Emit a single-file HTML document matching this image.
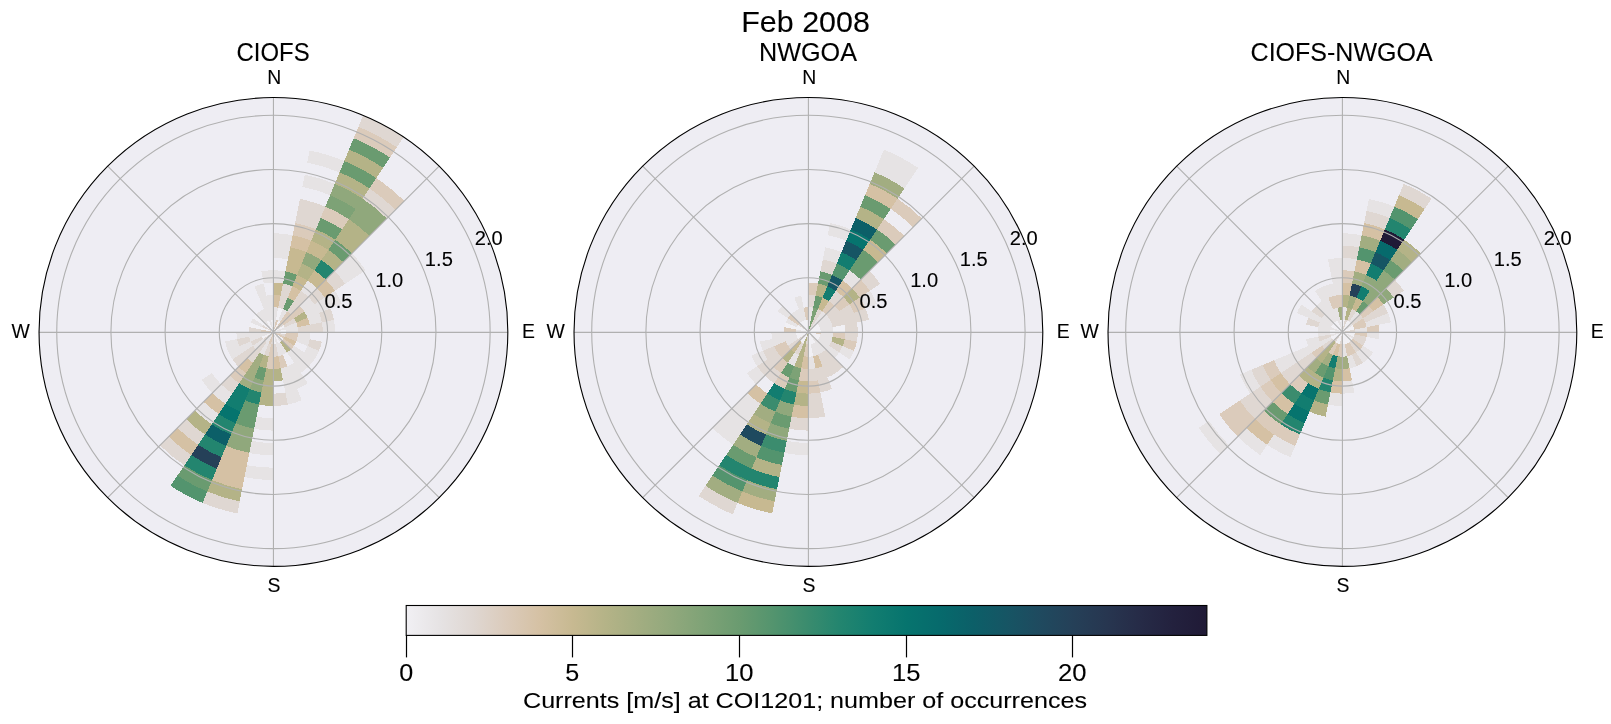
<!DOCTYPE html>
<html><head><meta charset="utf-8"><style>
html,body{margin:0;padding:0;background:#fff;}
svg{display:block;}
text{font-family:"Liberation Sans", sans-serif;fill:#000;stroke:#000;stroke-width:0.1px;}
</style></head><body>
<svg width="1611" height="724" viewBox="0 0 1611 724">
<rect width="1611" height="724" fill="#fff"/>
<circle cx="273.44" cy="331.95" r="234.4" fill="#eeedf3"/>
<g shape-rendering="crispEdges"><path d="M273.44,331.95L273.44,319.61A12.34,12.34 0 0 1 275.85,319.85Z" fill="#e6e3e4"/><path d="M273.44,307.28A24.67,24.67 0 0 1 278.25,307.75L275.85,319.85A12.34,12.34 0 0 0 273.44,319.61Z" fill="#e6e3e4"/><path d="M273.44,294.94A37.01,37.01 0 0 1 280.66,295.65L278.25,307.75A24.67,24.67 0 0 0 273.44,307.28Z" fill="#d5c1a4"/><path d="M273.44,282.60A49.35,49.35 0 0 1 283.07,283.55L280.66,295.65A37.01,37.01 0 0 0 273.44,294.94Z" fill="#c7b991"/><path d="M273.44,270.27A61.68,61.68 0 0 1 285.47,271.45L283.07,283.55A49.35,49.35 0 0 0 273.44,282.60Z" fill="#e6e3e4"/><path d="M273.44,245.59A86.36,86.36 0 0 1 290.29,247.25L287.88,259.35A74.02,74.02 0 0 0 273.44,257.93Z" fill="#e6e3e4"/><path d="M273.44,233.26A98.69,98.69 0 0 1 292.69,235.15L290.29,247.25A86.36,86.36 0 0 0 273.44,245.59Z" fill="#e6e3e4"/><path d="M273.44,331.95L275.85,319.85A12.34,12.34 0 0 1 278.16,320.55Z" fill="#dbcbbb"/><path d="M278.25,307.75A24.67,24.67 0 0 1 282.88,309.15L278.16,320.55A12.34,12.34 0 0 0 275.85,319.85Z" fill="#f1f0f4"/><path d="M280.66,295.65A37.01,37.01 0 0 1 287.60,297.76L282.88,309.15A24.67,24.67 0 0 0 278.25,307.75Z" fill="#dfd7d2"/><path d="M283.07,283.55A49.35,49.35 0 0 1 292.32,286.36L287.60,297.76A37.01,37.01 0 0 0 280.66,295.65Z" fill="#dfd7d2"/><path d="M285.47,271.45A61.68,61.68 0 0 1 297.05,274.96L292.32,286.36A49.35,49.35 0 0 0 283.07,283.55Z" fill="#6a9b70"/><path d="M287.88,259.35A74.02,74.02 0 0 1 301.77,263.56L297.05,274.96A61.68,61.68 0 0 0 285.47,271.45Z" fill="#c7b991"/><path d="M290.29,247.25A86.36,86.36 0 0 1 306.49,252.17L301.77,263.56A74.02,74.02 0 0 0 287.88,259.35Z" fill="#c7b991"/><path d="M292.69,235.15A98.69,98.69 0 0 1 311.21,240.77L306.49,252.17A86.36,86.36 0 0 0 290.29,247.25Z" fill="#d5c1a4"/><path d="M295.10,223.05A111.03,111.03 0 0 1 315.93,229.37L311.21,240.77A98.69,98.69 0 0 0 292.69,235.15Z" fill="#dbcbbb"/><path d="M297.51,210.95A123.37,123.37 0 0 1 320.65,217.97L315.93,229.37A111.03,111.03 0 0 0 295.10,223.05Z" fill="#dfd7d2"/><path d="M299.91,198.85A135.71,135.71 0 0 1 325.37,206.57L320.65,217.97A123.37,123.37 0 0 0 297.51,210.95Z" fill="#dfd7d2"/><path d="M304.73,174.65A160.38,160.38 0 0 1 334.81,183.78L330.09,195.18A148.04,148.04 0 0 0 302.32,186.75Z" fill="#e6e3e4"/><path d="M309.54,150.45A185.05,185.05 0 0 1 344.26,160.98L339.54,172.38A172.72,172.72 0 0 0 307.14,162.55Z" fill="#e6e3e4"/><path d="M273.44,331.95L278.16,320.55A12.34,12.34 0 0 1 280.29,321.69Z" fill="#f1f0f4"/><path d="M282.88,309.15A24.67,24.67 0 0 1 287.15,311.43L280.29,321.69A12.34,12.34 0 0 0 278.16,320.55Z" fill="#e6e3e4"/><path d="M287.60,297.76A37.01,37.01 0 0 1 294.00,301.18L287.15,311.43A24.67,24.67 0 0 0 282.88,309.15Z" fill="#6a9b70"/><path d="M292.32,286.36A49.35,49.35 0 0 1 300.86,290.92L294.00,301.18A37.01,37.01 0 0 0 287.60,297.76Z" fill="#d5c1a4"/><path d="M297.05,274.96A61.68,61.68 0 0 1 307.71,280.66L300.86,290.92A49.35,49.35 0 0 0 292.32,286.36Z" fill="#c7b991"/><path d="M301.77,263.56A74.02,74.02 0 0 1 314.56,270.40L307.71,280.66A61.68,61.68 0 0 0 297.05,274.96Z" fill="#b4b387"/><path d="M306.49,252.17A86.36,86.36 0 0 1 321.42,260.15L314.56,270.40A74.02,74.02 0 0 0 301.77,263.56Z" fill="#90a87c"/><path d="M311.21,240.77A98.69,98.69 0 0 1 328.27,249.89L321.42,260.15A86.36,86.36 0 0 0 306.49,252.17Z" fill="#c7b991"/><path d="M315.93,229.37A111.03,111.03 0 0 1 335.13,239.63L328.27,249.89A98.69,98.69 0 0 0 311.21,240.77Z" fill="#b4b387"/><path d="M320.65,217.97A123.37,123.37 0 0 1 341.98,229.37L335.13,239.63A111.03,111.03 0 0 0 315.93,229.37Z" fill="#6a9b70"/><path d="M325.37,206.57A135.71,135.71 0 0 1 348.83,219.12L341.98,229.37A123.37,123.37 0 0 0 320.65,217.97Z" fill="#dbcbbb"/><path d="M330.09,195.18A148.04,148.04 0 0 1 355.69,208.86L348.83,219.12A135.71,135.71 0 0 0 325.37,206.57Z" fill="#7da276"/><path d="M334.81,183.78A160.38,160.38 0 0 1 362.54,198.60L355.69,208.86A148.04,148.04 0 0 0 330.09,195.18Z" fill="#90a87c"/><path d="M339.54,172.38A172.72,172.72 0 0 1 369.40,188.34L362.54,198.60A160.38,160.38 0 0 0 334.81,183.78Z" fill="#b4b387"/><path d="M344.26,160.98A185.05,185.05 0 0 1 376.25,178.08L369.40,188.34A172.72,172.72 0 0 0 339.54,172.38Z" fill="#6a9b70"/><path d="M348.98,149.59A197.39,197.39 0 0 1 383.10,167.83L376.25,178.08A185.05,185.05 0 0 0 344.26,160.98Z" fill="#b4b387"/><path d="M353.70,138.19A209.73,209.73 0 0 1 389.96,157.57L383.10,167.83A197.39,197.39 0 0 0 348.98,149.59Z" fill="#6a9b70"/><path d="M358.42,126.79A222.06,222.06 0 0 1 396.81,147.31L389.96,157.57A209.73,209.73 0 0 0 353.70,138.19Z" fill="#dbcbbb"/><path d="M363.14,115.39A234.40,234.40 0 0 1 403.67,137.05L396.81,147.31A222.06,222.06 0 0 0 358.42,126.79Z" fill="#dfd7d2"/><path d="M273.44,331.95L280.29,321.69A12.34,12.34 0 0 1 282.16,323.23Z" fill="#dbcbbb"/><path d="M287.15,311.43A24.67,24.67 0 0 1 290.89,314.50L282.16,323.23A12.34,12.34 0 0 0 280.29,321.69Z" fill="#dbcbbb"/><path d="M294.00,301.18A37.01,37.01 0 0 1 299.61,305.78L290.89,314.50A24.67,24.67 0 0 0 287.15,311.43Z" fill="#dfd7d2"/><path d="M300.86,290.92A49.35,49.35 0 0 1 308.33,297.06L299.61,305.78A37.01,37.01 0 0 0 294.00,301.18Z" fill="#dfd7d2"/><path d="M307.71,280.66A61.68,61.68 0 0 1 317.06,288.33L308.33,297.06A49.35,49.35 0 0 0 300.86,290.92Z" fill="#e6e3e4"/><path d="M314.56,270.40A74.02,74.02 0 0 1 325.78,279.61L317.06,288.33A61.68,61.68 0 0 0 307.71,280.66Z" fill="#c7b991"/><path d="M321.42,260.15A86.36,86.36 0 0 1 334.50,270.89L325.78,279.61A74.02,74.02 0 0 0 314.56,270.40Z" fill="#23856f"/><path d="M328.27,249.89A98.69,98.69 0 0 1 343.23,262.16L334.50,270.89A86.36,86.36 0 0 0 321.42,260.15Z" fill="#b4b387"/><path d="M335.13,239.63A111.03,111.03 0 0 1 351.95,253.44L343.23,262.16A98.69,98.69 0 0 0 328.27,249.89Z" fill="#6a9b70"/><path d="M341.98,229.37A123.37,123.37 0 0 1 360.67,244.72L351.95,253.44A111.03,111.03 0 0 0 335.13,239.63Z" fill="#b4b387"/><path d="M348.83,219.12A135.71,135.71 0 0 1 369.40,235.99L360.67,244.72A123.37,123.37 0 0 0 341.98,229.37Z" fill="#b4b387"/><path d="M355.69,208.86A148.04,148.04 0 0 1 378.12,227.27L369.40,235.99A135.71,135.71 0 0 0 348.83,219.12Z" fill="#90a87c"/><path d="M362.54,198.60A160.38,160.38 0 0 1 386.85,218.54L378.12,227.27A148.04,148.04 0 0 0 355.69,208.86Z" fill="#90a87c"/><path d="M369.40,188.34A172.72,172.72 0 0 1 395.57,209.82L386.85,218.54A160.38,160.38 0 0 0 362.54,198.60Z" fill="#dfd7d2"/><path d="M376.25,178.08A185.05,185.05 0 0 1 404.29,201.10L395.57,209.82A172.72,172.72 0 0 0 369.40,188.34Z" fill="#dbcbbb"/><path d="M273.44,331.95L282.16,323.23A12.34,12.34 0 0 1 283.70,325.10Z" fill="#dfd7d2"/><path d="M290.89,314.50A24.67,24.67 0 0 1 293.96,318.24L283.70,325.10A12.34,12.34 0 0 0 282.16,323.23Z" fill="#dbcbbb"/><path d="M299.61,305.78A37.01,37.01 0 0 1 304.21,311.39L293.96,318.24A24.67,24.67 0 0 0 290.89,314.50Z" fill="#dbcbbb"/><path d="M308.33,297.06A49.35,49.35 0 0 1 314.47,304.53L304.21,311.39A37.01,37.01 0 0 0 299.61,305.78Z" fill="#e6e3e4"/><path d="M317.06,288.33A61.68,61.68 0 0 1 324.73,297.68L314.47,304.53A49.35,49.35 0 0 0 308.33,297.06Z" fill="#dfd7d2"/><path d="M325.78,279.61A74.02,74.02 0 0 1 334.99,290.83L324.73,297.68A61.68,61.68 0 0 0 317.06,288.33Z" fill="#d5c1a4"/><path d="M334.50,270.89A86.36,86.36 0 0 1 345.24,283.97L334.99,290.83A74.02,74.02 0 0 0 325.78,279.61Z" fill="#dfd7d2"/><path d="M343.23,262.16A98.69,98.69 0 0 1 355.50,277.12L345.24,283.97A86.36,86.36 0 0 0 334.50,270.89Z" fill="#e6e3e4"/><path d="M351.95,253.44A111.03,111.03 0 0 1 365.76,270.26L355.50,277.12A98.69,98.69 0 0 0 343.23,262.16Z" fill="#e6e3e4"/><path d="M273.44,331.95L283.70,325.10A12.34,12.34 0 0 1 284.84,327.23Z" fill="#f1f0f4"/><path d="M293.96,318.24A24.67,24.67 0 0 1 296.24,322.51L284.84,327.23A12.34,12.34 0 0 0 283.70,325.10Z" fill="#dfd7d2"/><path d="M304.21,311.39A37.01,37.01 0 0 1 307.63,317.79L296.24,322.51A24.67,24.67 0 0 0 293.96,318.24Z" fill="#b4b387"/><path d="M314.47,304.53A49.35,49.35 0 0 1 319.03,313.07L307.63,317.79A37.01,37.01 0 0 0 304.21,311.39Z" fill="#e6e3e4"/><path d="M324.73,297.68A61.68,61.68 0 0 1 330.43,308.34L319.03,313.07A49.35,49.35 0 0 0 314.47,304.53Z" fill="#e6e3e4"/><path d="M334.99,290.83A74.02,74.02 0 0 1 341.83,303.62L330.43,308.34A61.68,61.68 0 0 0 324.73,297.68Z" fill="#e6e3e4"/><path d="M273.44,331.95L284.84,327.23A12.34,12.34 0 0 1 285.54,329.54Z" fill="#e6e3e4"/><path d="M296.24,322.51A24.67,24.67 0 0 1 297.64,327.14L285.54,329.54A12.34,12.34 0 0 0 284.84,327.23Z" fill="#e6e3e4"/><path d="M307.63,317.79A37.01,37.01 0 0 1 309.74,324.73L297.64,327.14A24.67,24.67 0 0 0 296.24,322.51Z" fill="#d5c1a4"/><path d="M319.03,313.07A49.35,49.35 0 0 1 321.84,322.32L309.74,324.73A37.01,37.01 0 0 0 307.63,317.79Z" fill="#e6e3e4"/><path d="M330.43,308.34A61.68,61.68 0 0 1 333.94,319.92L321.84,322.32A49.35,49.35 0 0 0 319.03,313.07Z" fill="#dfd7d2"/><path d="M273.44,331.95L285.54,329.54A12.34,12.34 0 0 1 285.78,331.95Z" fill="#f1f0f4"/><path d="M297.64,327.14A24.67,24.67 0 0 1 298.11,331.95L285.78,331.95A12.34,12.34 0 0 0 285.54,329.54Z" fill="#e6e3e4"/><path d="M309.74,324.73A37.01,37.01 0 0 1 310.45,331.95L298.11,331.95A24.67,24.67 0 0 0 297.64,327.14Z" fill="#dfd7d2"/><path d="M321.84,322.32A49.35,49.35 0 0 1 322.79,331.95L310.45,331.95A37.01,37.01 0 0 0 309.74,324.73Z" fill="#dfd7d2"/><path d="M333.94,319.92A61.68,61.68 0 0 1 335.12,331.95L322.79,331.95A49.35,49.35 0 0 0 321.84,322.32Z" fill="#e6e3e4"/><path d="M273.44,331.95L285.78,331.95A12.34,12.34 0 0 1 285.54,334.36Z" fill="#f1f0f4"/><path d="M298.11,331.95A24.67,24.67 0 0 1 297.64,336.76L285.54,334.36A12.34,12.34 0 0 0 285.78,331.95Z" fill="#dbcbbb"/><path d="M310.45,331.95A37.01,37.01 0 0 1 309.74,339.17L297.64,336.76A24.67,24.67 0 0 0 298.11,331.95Z" fill="#e6e3e4"/><path d="M273.44,331.95L285.54,334.36A12.34,12.34 0 0 1 284.84,336.67Z" fill="#dfd7d2"/><path d="M297.64,336.76A24.67,24.67 0 0 1 296.24,341.39L284.84,336.67A12.34,12.34 0 0 0 285.54,334.36Z" fill="#dbcbbb"/><path d="M309.74,339.17A37.01,37.01 0 0 1 307.63,346.11L296.24,341.39A24.67,24.67 0 0 0 297.64,336.76Z" fill="#e6e3e4"/><path d="M321.84,341.58A49.35,49.35 0 0 1 319.03,350.83L307.63,346.11A37.01,37.01 0 0 0 309.74,339.17Z" fill="#dfd7d2"/><path d="M273.44,331.95L284.84,336.67A12.34,12.34 0 0 1 283.70,338.80Z" fill="#dbcbbb"/><path d="M296.24,341.39A24.67,24.67 0 0 1 293.96,345.66L283.70,338.80A12.34,12.34 0 0 0 284.84,336.67Z" fill="#d5c1a4"/><path d="M319.03,350.83A49.35,49.35 0 0 1 314.47,359.37L304.21,352.51A37.01,37.01 0 0 0 307.63,346.11Z" fill="#e6e3e4"/><path d="M273.44,331.95L283.70,338.80A12.34,12.34 0 0 1 282.16,340.67Z" fill="#f1f0f4"/><path d="M293.96,345.66A24.67,24.67 0 0 1 290.89,349.40L282.16,340.67A12.34,12.34 0 0 0 283.70,338.80Z" fill="#dbcbbb"/><path d="M304.21,352.51A37.01,37.01 0 0 1 299.61,358.12L290.89,349.40A24.67,24.67 0 0 0 293.96,345.66Z" fill="#e6e3e4"/><path d="M314.47,359.37A49.35,49.35 0 0 1 308.33,366.84L299.61,358.12A37.01,37.01 0 0 0 304.21,352.51Z" fill="#e6e3e4"/><path d="M273.44,331.95L282.16,340.67A12.34,12.34 0 0 1 280.29,342.21Z" fill="#e6e3e4"/><path d="M290.89,349.40A24.67,24.67 0 0 1 287.15,352.47L280.29,342.21A12.34,12.34 0 0 0 282.16,340.67Z" fill="#b4b387"/><path d="M299.61,358.12A37.01,37.01 0 0 1 294.00,362.72L287.15,352.47A24.67,24.67 0 0 0 290.89,349.40Z" fill="#e6e3e4"/><path d="M308.33,366.84A49.35,49.35 0 0 1 300.86,372.98L294.00,362.72A37.01,37.01 0 0 0 299.61,358.12Z" fill="#e6e3e4"/><path d="M273.44,331.95L280.29,342.21A12.34,12.34 0 0 1 278.16,343.35Z" fill="#f1f0f4"/><path d="M287.15,352.47A24.67,24.67 0 0 1 282.88,354.75L278.16,343.35A12.34,12.34 0 0 0 280.29,342.21Z" fill="#e6e3e4"/><path d="M300.86,372.98A49.35,49.35 0 0 1 292.32,377.54L287.60,366.14A37.01,37.01 0 0 0 294.00,362.72Z" fill="#e6e3e4"/><path d="M307.71,383.24A61.68,61.68 0 0 1 297.05,388.94L292.32,377.54A49.35,49.35 0 0 0 300.86,372.98Z" fill="#e6e3e4"/><path d="M273.44,331.95L278.16,343.35A12.34,12.34 0 0 1 275.85,344.05Z" fill="#e6e3e4"/><path d="M282.88,354.75A24.67,24.67 0 0 1 278.25,356.15L275.85,344.05A12.34,12.34 0 0 0 278.16,343.35Z" fill="#e6e3e4"/><path d="M287.60,366.14A37.01,37.01 0 0 1 280.66,368.25L278.25,356.15A24.67,24.67 0 0 0 282.88,354.75Z" fill="#dbcbbb"/><path d="M292.32,377.54A49.35,49.35 0 0 1 283.07,380.35L280.66,368.25A37.01,37.01 0 0 0 287.60,366.14Z" fill="#e6e3e4"/><path d="M297.05,388.94A61.68,61.68 0 0 1 285.47,392.45L283.07,380.35A49.35,49.35 0 0 0 292.32,377.54Z" fill="#e6e3e4"/><path d="M301.77,400.34A74.02,74.02 0 0 1 287.88,404.55L285.47,392.45A61.68,61.68 0 0 0 297.05,388.94Z" fill="#e6e3e4"/><path d="M273.44,331.95L275.85,344.05A12.34,12.34 0 0 1 273.44,344.29Z" fill="#f1f0f4"/><path d="M278.25,356.15A24.67,24.67 0 0 1 273.44,356.62L273.44,344.29A12.34,12.34 0 0 0 275.85,344.05Z" fill="#dfd7d2"/><path d="M280.66,368.25A37.01,37.01 0 0 1 273.44,368.96L273.44,356.62A24.67,24.67 0 0 0 278.25,356.15Z" fill="#d5c1a4"/><path d="M283.07,380.35A49.35,49.35 0 0 1 273.44,381.30L273.44,368.96A37.01,37.01 0 0 0 280.66,368.25Z" fill="#b4b387"/><path d="M287.88,404.55A74.02,74.02 0 0 1 273.44,405.97L273.44,393.63A61.68,61.68 0 0 0 285.47,392.45Z" fill="#dfd7d2"/><path d="M273.44,331.95L273.44,344.29A12.34,12.34 0 0 1 271.03,344.05Z" fill="#dfd7d2"/><path d="M273.44,356.62A24.67,24.67 0 0 1 268.63,356.15L271.03,344.05A12.34,12.34 0 0 0 273.44,344.29Z" fill="#dbcbbb"/><path d="M273.44,368.96A37.01,37.01 0 0 1 266.22,368.25L268.63,356.15A24.67,24.67 0 0 0 273.44,356.62Z" fill="#dbcbbb"/><path d="M273.44,381.30A49.35,49.35 0 0 1 263.81,380.35L266.22,368.25A37.01,37.01 0 0 0 273.44,368.96Z" fill="#b4b387"/><path d="M273.44,393.63A61.68,61.68 0 0 1 261.41,392.45L263.81,380.35A49.35,49.35 0 0 0 273.44,381.30Z" fill="#b4b387"/><path d="M273.44,405.97A74.02,74.02 0 0 1 259.00,404.55L261.41,392.45A61.68,61.68 0 0 0 273.44,393.63Z" fill="#b4b387"/><path d="M273.44,430.64A98.69,98.69 0 0 1 254.19,428.75L256.59,416.65A86.36,86.36 0 0 0 273.44,418.31Z" fill="#e6e3e4"/><path d="M273.44,455.32A123.37,123.37 0 0 1 249.37,452.95L251.78,440.85A111.03,111.03 0 0 0 273.44,442.98Z" fill="#e6e3e4"/><path d="M273.44,479.99A148.04,148.04 0 0 1 244.56,477.15L246.97,465.05A135.71,135.71 0 0 0 273.44,467.66Z" fill="#e6e3e4"/><path d="M273.44,331.95L271.03,344.05A12.34,12.34 0 0 1 268.72,343.35Z" fill="#dbcbbb"/><path d="M268.63,356.15A24.67,24.67 0 0 1 264.00,354.75L268.72,343.35A12.34,12.34 0 0 0 271.03,344.05Z" fill="#dfd7d2"/><path d="M266.22,368.25A37.01,37.01 0 0 1 259.28,366.14L264.00,354.75A24.67,24.67 0 0 0 268.63,356.15Z" fill="#b4b387"/><path d="M263.81,380.35A49.35,49.35 0 0 1 254.56,377.54L259.28,366.14A37.01,37.01 0 0 0 266.22,368.25Z" fill="#6a9b70"/><path d="M261.41,392.45A61.68,61.68 0 0 1 249.83,388.94L254.56,377.54A49.35,49.35 0 0 0 263.81,380.35Z" fill="#90a87c"/><path d="M259.00,404.55A74.02,74.02 0 0 1 245.11,400.34L249.83,388.94A61.68,61.68 0 0 0 261.41,392.45Z" fill="#23856f"/><path d="M256.59,416.65A86.36,86.36 0 0 1 240.39,411.73L245.11,400.34A74.02,74.02 0 0 0 259.00,404.55Z" fill="#6a9b70"/><path d="M254.19,428.75A98.69,98.69 0 0 1 235.67,423.13L240.39,411.73A86.36,86.36 0 0 0 256.59,416.65Z" fill="#6a9b70"/><path d="M251.78,440.85A111.03,111.03 0 0 1 230.95,434.53L235.67,423.13A98.69,98.69 0 0 0 254.19,428.75Z" fill="#90a87c"/><path d="M249.37,452.95A123.37,123.37 0 0 1 226.23,445.93L230.95,434.53A111.03,111.03 0 0 0 251.78,440.85Z" fill="#90a87c"/><path d="M246.97,465.05A135.71,135.71 0 0 1 221.51,457.33L226.23,445.93A123.37,123.37 0 0 0 249.37,452.95Z" fill="#d5c1a4"/><path d="M244.56,477.15A148.04,148.04 0 0 1 216.79,468.72L221.51,457.33A135.71,135.71 0 0 0 246.97,465.05Z" fill="#d5c1a4"/><path d="M242.15,489.25A160.38,160.38 0 0 1 212.07,480.12L216.79,468.72A148.04,148.04 0 0 0 244.56,477.15Z" fill="#d5c1a4"/><path d="M239.74,501.35A172.72,172.72 0 0 1 207.34,491.52L212.07,480.12A160.38,160.38 0 0 0 242.15,489.25Z" fill="#b4b387"/><path d="M237.34,513.45A185.05,185.05 0 0 1 202.62,502.92L207.34,491.52A172.72,172.72 0 0 0 239.74,501.35Z" fill="#dfd7d2"/><path d="M273.44,331.95L268.72,343.35A12.34,12.34 0 0 1 266.59,342.21Z" fill="#e6e3e4"/><path d="M264.00,354.75A24.67,24.67 0 0 1 259.73,352.47L266.59,342.21A12.34,12.34 0 0 0 268.72,343.35Z" fill="#e6e3e4"/><path d="M259.28,366.14A37.01,37.01 0 0 1 252.88,362.72L259.73,352.47A24.67,24.67 0 0 0 264.00,354.75Z" fill="#a2ad81"/><path d="M254.56,377.54A49.35,49.35 0 0 1 246.02,372.98L252.88,362.72A37.01,37.01 0 0 0 259.28,366.14Z" fill="#a2ad81"/><path d="M249.83,388.94A61.68,61.68 0 0 1 239.17,383.24L246.02,372.98A49.35,49.35 0 0 0 254.56,377.54Z" fill="#a2ad81"/><path d="M245.11,400.34A74.02,74.02 0 0 1 232.32,393.50L239.17,383.24A61.68,61.68 0 0 0 249.83,388.94Z" fill="#127d70"/><path d="M240.39,411.73A86.36,86.36 0 0 1 225.46,403.75L232.32,393.50A74.02,74.02 0 0 0 245.11,400.34Z" fill="#127d70"/><path d="M235.67,423.13A98.69,98.69 0 0 1 218.61,414.01L225.46,403.75A86.36,86.36 0 0 0 240.39,411.73Z" fill="#06746e"/><path d="M230.95,434.53A111.03,111.03 0 0 1 211.75,424.27L218.61,414.01A98.69,98.69 0 0 0 235.67,423.13Z" fill="#23856f"/><path d="M226.23,445.93A123.37,123.37 0 0 1 204.90,434.53L211.75,424.27A111.03,111.03 0 0 0 230.95,434.53Z" fill="#0c5f68"/><path d="M221.51,457.33A135.71,135.71 0 0 1 198.05,444.78L204.90,434.53A123.37,123.37 0 0 0 226.23,445.93Z" fill="#23856f"/><path d="M216.79,468.72A148.04,148.04 0 0 1 191.19,455.04L198.05,444.78A135.71,135.71 0 0 0 221.51,457.33Z" fill="#254058"/><path d="M212.07,480.12A160.38,160.38 0 0 1 184.34,465.30L191.19,455.04A148.04,148.04 0 0 0 216.79,468.72Z" fill="#23856f"/><path d="M207.34,491.52A172.72,172.72 0 0 1 177.48,475.56L184.34,465.30A160.38,160.38 0 0 0 212.07,480.12Z" fill="#6a9b70"/><path d="M202.62,502.92A185.05,185.05 0 0 1 170.63,485.82L177.48,475.56A172.72,172.72 0 0 0 207.34,491.52Z" fill="#53946e"/><path d="M273.44,331.95L266.59,342.21A12.34,12.34 0 0 1 264.72,340.67Z" fill="#e6e3e4"/><path d="M259.73,352.47A24.67,24.67 0 0 1 255.99,349.40L264.72,340.67A12.34,12.34 0 0 0 266.59,342.21Z" fill="#dfd7d2"/><path d="M252.88,362.72A37.01,37.01 0 0 1 247.27,358.12L255.99,349.40A24.67,24.67 0 0 0 259.73,352.47Z" fill="#dfd7d2"/><path d="M246.02,372.98A49.35,49.35 0 0 1 238.55,366.84L247.27,358.12A37.01,37.01 0 0 0 252.88,362.72Z" fill="#d5c1a4"/><path d="M239.17,383.24A61.68,61.68 0 0 1 229.82,375.57L238.55,366.84A49.35,49.35 0 0 0 246.02,372.98Z" fill="#dbcbbb"/><path d="M232.32,393.50A74.02,74.02 0 0 1 221.10,384.29L229.82,375.57A61.68,61.68 0 0 0 239.17,383.24Z" fill="#dfd7d2"/><path d="M225.46,403.75A86.36,86.36 0 0 1 212.38,393.01L221.10,384.29A74.02,74.02 0 0 0 232.32,393.50Z" fill="#e6e3e4"/><path d="M218.61,414.01A98.69,98.69 0 0 1 203.65,401.74L212.38,393.01A86.36,86.36 0 0 0 225.46,403.75Z" fill="#d5c1a4"/><path d="M211.75,424.27A111.03,111.03 0 0 1 194.93,410.46L203.65,401.74A98.69,98.69 0 0 0 218.61,414.01Z" fill="#e6e3e4"/><path d="M204.90,434.53A123.37,123.37 0 0 1 186.21,419.18L194.93,410.46A111.03,111.03 0 0 0 211.75,424.27Z" fill="#b4b387"/><path d="M198.05,444.78A135.71,135.71 0 0 1 177.48,427.91L186.21,419.18A123.37,123.37 0 0 0 204.90,434.53Z" fill="#dfd7d2"/><path d="M191.19,455.04A148.04,148.04 0 0 1 168.76,436.63L177.48,427.91A135.71,135.71 0 0 0 198.05,444.78Z" fill="#d5c1a4"/><path d="M184.34,465.30A160.38,160.38 0 0 1 160.03,445.36L168.76,436.63A148.04,148.04 0 0 0 191.19,455.04Z" fill="#dfd7d2"/><path d="M273.44,331.95L264.72,340.67A12.34,12.34 0 0 1 263.18,338.80Z" fill="#dfd7d2"/><path d="M255.99,349.40A24.67,24.67 0 0 1 252.92,345.66L263.18,338.80A12.34,12.34 0 0 0 264.72,340.67Z" fill="#e6e3e4"/><path d="M247.27,358.12A37.01,37.01 0 0 1 242.67,352.51L252.92,345.66A24.67,24.67 0 0 0 255.99,349.40Z" fill="#dfd7d2"/><path d="M238.55,366.84A49.35,49.35 0 0 1 232.41,359.37L242.67,352.51A37.01,37.01 0 0 0 247.27,358.12Z" fill="#dfd7d2"/><path d="M212.38,393.01A86.36,86.36 0 0 1 201.64,379.93L211.89,373.07A74.02,74.02 0 0 0 221.10,384.29Z" fill="#e6e3e4"/><path d="M273.44,331.95L263.18,338.80A12.34,12.34 0 0 1 262.04,336.67Z" fill="#f1f0f4"/><path d="M252.92,345.66A24.67,24.67 0 0 1 250.64,341.39L262.04,336.67A12.34,12.34 0 0 0 263.18,338.80Z" fill="#dfd7d2"/><path d="M242.67,352.51A37.01,37.01 0 0 1 239.25,346.11L250.64,341.39A24.67,24.67 0 0 0 252.92,345.66Z" fill="#e6e3e4"/><path d="M232.41,359.37A49.35,49.35 0 0 1 227.85,350.83L239.25,346.11A37.01,37.01 0 0 0 242.67,352.51Z" fill="#e6e3e4"/><path d="M273.44,331.95L262.04,336.67A12.34,12.34 0 0 1 261.34,334.36Z" fill="#e6e3e4"/><path d="M250.64,341.39A24.67,24.67 0 0 1 249.24,336.76L261.34,334.36A12.34,12.34 0 0 0 262.04,336.67Z" fill="#e6e3e4"/><path d="M239.25,346.11A37.01,37.01 0 0 1 237.14,339.17L249.24,336.76A24.67,24.67 0 0 0 250.64,341.39Z" fill="#dfd7d2"/><path d="M227.85,350.83A49.35,49.35 0 0 1 225.04,341.58L237.14,339.17A37.01,37.01 0 0 0 239.25,346.11Z" fill="#e6e3e4"/><path d="M273.44,331.95L261.34,334.36A12.34,12.34 0 0 1 261.10,331.95Z" fill="#e6e3e4"/><path d="M249.24,336.76A24.67,24.67 0 0 1 248.77,331.95L261.10,331.95A12.34,12.34 0 0 0 261.34,334.36Z" fill="#e6e3e4"/><path d="M237.14,339.17A37.01,37.01 0 0 1 236.43,331.95L248.77,331.95A24.67,24.67 0 0 0 249.24,336.76Z" fill="#e6e3e4"/><path d="M273.44,331.95L261.10,331.95A12.34,12.34 0 0 1 261.34,329.54Z" fill="#dbcbbb"/><path d="M248.77,331.95A24.67,24.67 0 0 1 249.24,327.14L261.34,329.54A12.34,12.34 0 0 0 261.10,331.95Z" fill="#dfd7d2"/><path d="M273.44,331.95L261.34,329.54A12.34,12.34 0 0 1 262.04,327.23Z" fill="#f1f0f4"/><path d="M249.24,327.14A24.67,24.67 0 0 1 250.64,322.51L262.04,327.23A12.34,12.34 0 0 0 261.34,329.54Z" fill="#f1f0f4"/><path d="M273.44,331.95L262.04,327.23A12.34,12.34 0 0 1 263.18,325.10Z" fill="#dfd7d2"/><path d="M250.64,322.51A24.67,24.67 0 0 1 252.92,318.24L263.18,325.10A12.34,12.34 0 0 0 262.04,327.23Z" fill="#e6e3e4"/><path d="M273.44,331.95L263.18,325.10A12.34,12.34 0 0 1 264.72,323.23Z" fill="#f1f0f4"/><path d="M252.92,318.24A24.67,24.67 0 0 1 255.99,314.50L264.72,323.23A12.34,12.34 0 0 0 263.18,325.10Z" fill="#f1f0f4"/><path d="M273.44,331.95L264.72,323.23A12.34,12.34 0 0 1 266.59,321.69Z" fill="#e6e3e4"/><path d="M255.99,314.50A24.67,24.67 0 0 1 259.73,311.43L266.59,321.69A12.34,12.34 0 0 0 264.72,323.23Z" fill="#e6e3e4"/><path d="M273.44,331.95L266.59,321.69A12.34,12.34 0 0 1 268.72,320.55Z" fill="#f1f0f4"/><path d="M259.73,311.43A24.67,24.67 0 0 1 264.00,309.15L268.72,320.55A12.34,12.34 0 0 0 266.59,321.69Z" fill="#e6e3e4"/><path d="M273.44,331.95L268.72,320.55A12.34,12.34 0 0 1 271.03,319.85Z" fill="#e6e3e4"/><path d="M264.00,309.15A24.67,24.67 0 0 1 268.63,307.75L271.03,319.85A12.34,12.34 0 0 0 268.72,320.55Z" fill="#e6e3e4"/><path d="M259.28,297.76A37.01,37.01 0 0 1 266.22,295.65L268.63,307.75A24.67,24.67 0 0 0 264.00,309.15Z" fill="#e6e3e4"/><path d="M254.56,286.36A49.35,49.35 0 0 1 263.81,283.55L266.22,295.65A37.01,37.01 0 0 0 259.28,297.76Z" fill="#e6e3e4"/><path d="M273.44,331.95L271.03,319.85A12.34,12.34 0 0 1 273.44,319.61Z" fill="#f1f0f4"/><path d="M268.63,307.75A24.67,24.67 0 0 1 273.44,307.28L273.44,319.61A12.34,12.34 0 0 0 271.03,319.85Z" fill="#e6e3e4"/><path d="M266.22,295.65A37.01,37.01 0 0 1 273.44,294.94L273.44,307.28A24.67,24.67 0 0 0 268.63,307.75Z" fill="#e6e3e4"/><path d="M261.41,271.45A61.68,61.68 0 0 1 273.44,270.27L273.44,282.60A49.35,49.35 0 0 0 263.81,283.55Z" fill="#e6e3e4"/></g>
<g stroke="#b0b0b0" stroke-width="1.1"><circle cx="273.44" cy="331.95" r="54.17" fill="none"/><circle cx="273.44" cy="331.95" r="108.35" fill="none"/><circle cx="273.44" cy="331.95" r="162.52" fill="none"/><circle cx="273.44" cy="331.95" r="216.70" fill="none"/><line x1="273.44" y1="331.95" x2="273.44" y2="97.55"/><line x1="273.44" y1="331.95" x2="439.19" y2="166.20"/><line x1="273.44" y1="332.42" x2="507.84" y2="332.42"/><line x1="273.44" y1="331.95" x2="439.19" y2="497.70"/><line x1="273.44" y1="331.95" x2="273.44" y2="566.35"/><line x1="273.44" y1="331.95" x2="107.69" y2="497.70"/><line x1="273.44" y1="332.42" x2="39.04" y2="332.42"/><line x1="273.44" y1="331.95" x2="107.69" y2="166.20"/></g>
<circle cx="273.44" cy="331.95" r="234.4" fill="none" stroke="#000" stroke-width="1.1"/><circle cx="808.41" cy="331.95" r="234.4" fill="#eeedf3"/>
<g shape-rendering="crispEdges"><path d="M808.41,331.95L808.41,319.61A12.34,12.34 0 0 1 810.82,319.85Z" fill="#e6e3e4"/><path d="M808.41,307.28A24.67,24.67 0 0 1 813.22,307.75L810.82,319.85A12.34,12.34 0 0 0 808.41,319.61Z" fill="#e6e3e4"/><path d="M808.41,294.94A37.01,37.01 0 0 1 815.63,295.65L813.22,307.75A24.67,24.67 0 0 0 808.41,307.28Z" fill="#dfd7d2"/><path d="M808.41,282.60A49.35,49.35 0 0 1 818.04,283.55L815.63,295.65A37.01,37.01 0 0 0 808.41,294.94Z" fill="#dbcbbb"/><path d="M808.41,331.95L810.82,319.85A12.34,12.34 0 0 1 813.13,320.55Z" fill="#7da276"/><path d="M813.22,307.75A24.67,24.67 0 0 1 817.85,309.15L813.13,320.55A12.34,12.34 0 0 0 810.82,319.85Z" fill="#7da276"/><path d="M815.63,295.65A37.01,37.01 0 0 1 822.57,297.76L817.85,309.15A24.67,24.67 0 0 0 813.22,307.75Z" fill="#6a9b70"/><path d="M818.04,283.55A49.35,49.35 0 0 1 827.29,286.36L822.57,297.76A37.01,37.01 0 0 0 815.63,295.65Z" fill="#b4b387"/><path d="M820.44,271.45A61.68,61.68 0 0 1 832.02,274.96L827.29,286.36A49.35,49.35 0 0 0 818.04,283.55Z" fill="#6a9b70"/><path d="M822.85,259.35A74.02,74.02 0 0 1 836.74,263.56L832.02,274.96A61.68,61.68 0 0 0 820.44,271.45Z" fill="#dfd7d2"/><path d="M825.26,247.25A86.36,86.36 0 0 1 841.46,252.17L836.74,263.56A74.02,74.02 0 0 0 822.85,259.35Z" fill="#e6e3e4"/><path d="M830.07,223.05A111.03,111.03 0 0 1 850.90,229.37L846.18,240.77A98.69,98.69 0 0 0 827.66,235.15Z" fill="#e6e3e4"/><path d="M808.41,331.95L813.13,320.55A12.34,12.34 0 0 1 815.26,321.69Z" fill="#dfd7d2"/><path d="M817.85,309.15A24.67,24.67 0 0 1 822.12,311.43L815.26,321.69A12.34,12.34 0 0 0 813.13,320.55Z" fill="#dfd7d2"/><path d="M822.57,297.76A37.01,37.01 0 0 1 828.97,301.18L822.12,311.43A24.67,24.67 0 0 0 817.85,309.15Z" fill="#c7b991"/><path d="M827.29,286.36A49.35,49.35 0 0 1 835.83,290.92L828.97,301.18A37.01,37.01 0 0 0 822.57,297.76Z" fill="#127d70"/><path d="M832.02,274.96A61.68,61.68 0 0 1 842.68,280.66L835.83,290.92A49.35,49.35 0 0 0 827.29,286.36Z" fill="#165564"/><path d="M836.74,263.56A74.02,74.02 0 0 1 849.53,270.40L842.68,280.66A61.68,61.68 0 0 0 832.02,274.96Z" fill="#53946e"/><path d="M841.46,252.17A86.36,86.36 0 0 1 856.39,260.15L849.53,270.40A74.02,74.02 0 0 0 836.74,263.56Z" fill="#127d70"/><path d="M846.18,240.77A98.69,98.69 0 0 1 863.24,249.89L856.39,260.15A86.36,86.36 0 0 0 841.46,252.17Z" fill="#165564"/><path d="M850.90,229.37A111.03,111.03 0 0 1 870.10,239.63L863.24,249.89A98.69,98.69 0 0 0 846.18,240.77Z" fill="#06746e"/><path d="M855.62,217.97A123.37,123.37 0 0 1 876.95,229.37L870.10,239.63A111.03,111.03 0 0 0 850.90,229.37Z" fill="#0c5f68"/><path d="M860.34,206.57A135.71,135.71 0 0 1 883.80,219.12L876.95,229.37A123.37,123.37 0 0 0 855.62,217.97Z" fill="#b4b387"/><path d="M865.06,195.18A148.04,148.04 0 0 1 890.66,208.86L883.80,219.12A135.71,135.71 0 0 0 860.34,206.57Z" fill="#6a9b70"/><path d="M869.78,183.78A160.38,160.38 0 0 1 897.51,198.60L890.66,208.86A148.04,148.04 0 0 0 865.06,195.18Z" fill="#d5c1a4"/><path d="M874.51,172.38A172.72,172.72 0 0 1 904.37,188.34L897.51,198.60A160.38,160.38 0 0 0 869.78,183.78Z" fill="#a2ad81"/><path d="M879.23,160.98A185.05,185.05 0 0 1 911.22,178.08L904.37,188.34A172.72,172.72 0 0 0 874.51,172.38Z" fill="#e6e3e4"/><path d="M883.95,149.59A197.39,197.39 0 0 1 918.07,167.83L911.22,178.08A185.05,185.05 0 0 0 879.23,160.98Z" fill="#e6e3e4"/><path d="M808.41,331.95L815.26,321.69A12.34,12.34 0 0 1 817.13,323.23Z" fill="#e6e3e4"/><path d="M822.12,311.43A24.67,24.67 0 0 1 825.86,314.50L817.13,323.23A12.34,12.34 0 0 0 815.26,321.69Z" fill="#e6e3e4"/><path d="M828.97,301.18A37.01,37.01 0 0 1 834.58,305.78L825.86,314.50A24.67,24.67 0 0 0 822.12,311.43Z" fill="#dbcbbb"/><path d="M835.83,290.92A49.35,49.35 0 0 1 843.30,297.06L834.58,305.78A37.01,37.01 0 0 0 828.97,301.18Z" fill="#dfd7d2"/><path d="M842.68,280.66A61.68,61.68 0 0 1 852.03,288.33L843.30,297.06A49.35,49.35 0 0 0 835.83,290.92Z" fill="#d5c1a4"/><path d="M849.53,270.40A74.02,74.02 0 0 1 860.75,279.61L852.03,288.33A61.68,61.68 0 0 0 842.68,280.66Z" fill="#e6e3e4"/><path d="M856.39,260.15A86.36,86.36 0 0 1 869.47,270.89L860.75,279.61A74.02,74.02 0 0 0 849.53,270.40Z" fill="#6a9b70"/><path d="M863.24,249.89A98.69,98.69 0 0 1 878.20,262.16L869.47,270.89A86.36,86.36 0 0 0 856.39,260.15Z" fill="#6a9b70"/><path d="M870.10,239.63A111.03,111.03 0 0 1 886.92,253.44L878.20,262.16A98.69,98.69 0 0 0 863.24,249.89Z" fill="#c7b991"/><path d="M876.95,229.37A123.37,123.37 0 0 1 895.64,244.72L886.92,253.44A111.03,111.03 0 0 0 870.10,239.63Z" fill="#6a9b70"/><path d="M883.80,219.12A135.71,135.71 0 0 1 904.37,235.99L895.64,244.72A123.37,123.37 0 0 0 876.95,229.37Z" fill="#dbcbbb"/><path d="M897.51,198.60A160.38,160.38 0 0 1 921.82,218.54L913.09,227.27A148.04,148.04 0 0 0 890.66,208.86Z" fill="#dbcbbb"/><path d="M808.41,331.95L817.13,323.23A12.34,12.34 0 0 1 818.67,325.10Z" fill="#f1f0f4"/><path d="M825.86,314.50A24.67,24.67 0 0 1 828.93,318.24L818.67,325.10A12.34,12.34 0 0 0 817.13,323.23Z" fill="#e6e3e4"/><path d="M834.58,305.78A37.01,37.01 0 0 1 839.18,311.39L828.93,318.24A24.67,24.67 0 0 0 825.86,314.50Z" fill="#dfd7d2"/><path d="M843.30,297.06A49.35,49.35 0 0 1 849.44,304.53L839.18,311.39A37.01,37.01 0 0 0 834.58,305.78Z" fill="#dbcbbb"/><path d="M852.03,288.33A61.68,61.68 0 0 1 859.70,297.68L849.44,304.53A49.35,49.35 0 0 0 843.30,297.06Z" fill="#b4b387"/><path d="M860.75,279.61A74.02,74.02 0 0 1 869.96,290.83L859.70,297.68A61.68,61.68 0 0 0 852.03,288.33Z" fill="#dbcbbb"/><path d="M869.47,270.89A86.36,86.36 0 0 1 880.21,283.97L869.96,290.83A74.02,74.02 0 0 0 860.75,279.61Z" fill="#dfd7d2"/><path d="M808.41,331.95L818.67,325.10A12.34,12.34 0 0 1 819.81,327.23Z" fill="#f1f0f4"/><path d="M828.93,318.24A24.67,24.67 0 0 1 831.21,322.51L819.81,327.23A12.34,12.34 0 0 0 818.67,325.10Z" fill="#e6e3e4"/><path d="M839.18,311.39A37.01,37.01 0 0 1 842.60,317.79L831.21,322.51A24.67,24.67 0 0 0 828.93,318.24Z" fill="#dfd7d2"/><path d="M849.44,304.53A49.35,49.35 0 0 1 854.00,313.07L842.60,317.79A37.01,37.01 0 0 0 839.18,311.39Z" fill="#dfd7d2"/><path d="M859.70,297.68A61.68,61.68 0 0 1 865.40,308.34L854.00,313.07A49.35,49.35 0 0 0 849.44,304.53Z" fill="#dbcbbb"/><path d="M869.96,290.83A74.02,74.02 0 0 1 876.80,303.62L865.40,308.34A61.68,61.68 0 0 0 859.70,297.68Z" fill="#e6e3e4"/><path d="M808.41,331.95L819.81,327.23A12.34,12.34 0 0 1 820.51,329.54Z" fill="#f1f0f4"/><path d="M831.21,322.51A24.67,24.67 0 0 1 832.61,327.14L820.51,329.54A12.34,12.34 0 0 0 819.81,327.23Z" fill="#e6e3e4"/><path d="M842.60,317.79A37.01,37.01 0 0 1 844.71,324.73L832.61,327.14A24.67,24.67 0 0 0 831.21,322.51Z" fill="#dfd7d2"/><path d="M854.00,313.07A49.35,49.35 0 0 1 856.81,322.32L844.71,324.73A37.01,37.01 0 0 0 842.60,317.79Z" fill="#dfd7d2"/><path d="M865.40,308.34A61.68,61.68 0 0 1 868.91,319.92L856.81,322.32A49.35,49.35 0 0 0 854.00,313.07Z" fill="#dfd7d2"/><path d="M808.41,331.95L820.51,329.54A12.34,12.34 0 0 1 820.75,331.95Z" fill="#f1f0f4"/><path d="M832.61,327.14A24.67,24.67 0 0 1 833.08,331.95L820.75,331.95A12.34,12.34 0 0 0 820.51,329.54Z" fill="#e6e3e4"/><path d="M844.71,324.73A37.01,37.01 0 0 1 845.42,331.95L833.08,331.95A24.67,24.67 0 0 0 832.61,327.14Z" fill="#f1f0f4"/><path d="M856.81,322.32A49.35,49.35 0 0 1 857.76,331.95L845.42,331.95A37.01,37.01 0 0 0 844.71,324.73Z" fill="#dfd7d2"/><path d="M808.41,331.95L820.75,331.95A12.34,12.34 0 0 1 820.51,334.36Z" fill="#dbcbbb"/><path d="M833.08,331.95A24.67,24.67 0 0 1 832.61,336.76L820.51,334.36A12.34,12.34 0 0 0 820.75,331.95Z" fill="#e6e3e4"/><path d="M845.42,331.95A37.01,37.01 0 0 1 844.71,339.17L832.61,336.76A24.67,24.67 0 0 0 833.08,331.95Z" fill="#dbcbbb"/><path d="M857.76,331.95A49.35,49.35 0 0 1 856.81,341.58L844.71,339.17A37.01,37.01 0 0 0 845.42,331.95Z" fill="#dfd7d2"/><path d="M808.41,331.95L820.51,334.36A12.34,12.34 0 0 1 819.81,336.67Z" fill="#f1f0f4"/><path d="M832.61,336.76A24.67,24.67 0 0 1 831.21,341.39L819.81,336.67A12.34,12.34 0 0 0 820.51,334.36Z" fill="#e6e3e4"/><path d="M844.71,339.17A37.01,37.01 0 0 1 842.60,346.11L831.21,341.39A24.67,24.67 0 0 0 832.61,336.76Z" fill="#b4b387"/><path d="M856.81,341.58A49.35,49.35 0 0 1 854.00,350.83L842.60,346.11A37.01,37.01 0 0 0 844.71,339.17Z" fill="#dbcbbb"/><path d="M808.41,331.95L819.81,336.67A12.34,12.34 0 0 1 818.67,338.80Z" fill="#f1f0f4"/><path d="M831.21,341.39A24.67,24.67 0 0 1 828.93,345.66L818.67,338.80A12.34,12.34 0 0 0 819.81,336.67Z" fill="#e6e3e4"/><path d="M842.60,346.11A37.01,37.01 0 0 1 839.18,352.51L828.93,345.66A24.67,24.67 0 0 0 831.21,341.39Z" fill="#dfd7d2"/><path d="M854.00,350.83A49.35,49.35 0 0 1 849.44,359.37L839.18,352.51A37.01,37.01 0 0 0 842.60,346.11Z" fill="#e6e3e4"/><path d="M808.41,331.95L818.67,338.80A12.34,12.34 0 0 1 817.13,340.67Z" fill="#f1f0f4"/><path d="M828.93,345.66A24.67,24.67 0 0 1 825.86,349.40L817.13,340.67A12.34,12.34 0 0 0 818.67,338.80Z" fill="#e6e3e4"/><path d="M839.18,352.51A37.01,37.01 0 0 1 834.58,358.12L825.86,349.40A24.67,24.67 0 0 0 828.93,345.66Z" fill="#e6e3e4"/><path d="M808.41,331.95L817.13,340.67A12.34,12.34 0 0 1 815.26,342.21Z" fill="#e6e3e4"/><path d="M825.86,349.40A24.67,24.67 0 0 1 822.12,352.47L815.26,342.21A12.34,12.34 0 0 0 817.13,340.67Z" fill="#e6e3e4"/><path d="M834.58,358.12A37.01,37.01 0 0 1 828.97,362.72L822.12,352.47A24.67,24.67 0 0 0 825.86,349.40Z" fill="#dfd7d2"/><path d="M843.30,366.84A49.35,49.35 0 0 1 835.83,372.98L828.97,362.72A37.01,37.01 0 0 0 834.58,358.12Z" fill="#dfd7d2"/><path d="M808.41,331.95L815.26,342.21A12.34,12.34 0 0 1 813.13,343.35Z" fill="#f1f0f4"/><path d="M822.12,352.47A24.67,24.67 0 0 1 817.85,354.75L813.13,343.35A12.34,12.34 0 0 0 815.26,342.21Z" fill="#e6e3e4"/><path d="M828.97,362.72A37.01,37.01 0 0 1 822.57,366.14L817.85,354.75A24.67,24.67 0 0 0 822.12,352.47Z" fill="#dfd7d2"/><path d="M835.83,372.98A49.35,49.35 0 0 1 827.29,377.54L822.57,366.14A37.01,37.01 0 0 0 828.97,362.72Z" fill="#dfd7d2"/><path d="M808.41,331.95L813.13,343.35A12.34,12.34 0 0 1 810.82,344.05Z" fill="#f1f0f4"/><path d="M817.85,354.75A24.67,24.67 0 0 1 813.22,356.15L810.82,344.05A12.34,12.34 0 0 0 813.13,343.35Z" fill="#e6e3e4"/><path d="M822.57,366.14A37.01,37.01 0 0 1 815.63,368.25L813.22,356.15A24.67,24.67 0 0 0 817.85,354.75Z" fill="#d5c1a4"/><path d="M827.29,377.54A49.35,49.35 0 0 1 818.04,380.35L815.63,368.25A37.01,37.01 0 0 0 822.57,366.14Z" fill="#dfd7d2"/><path d="M832.02,388.94A61.68,61.68 0 0 1 820.44,392.45L818.04,380.35A49.35,49.35 0 0 0 827.29,377.54Z" fill="#dfd7d2"/><path d="M808.41,331.95L810.82,344.05A12.34,12.34 0 0 1 808.41,344.29Z" fill="#f1f0f4"/><path d="M813.22,356.15A24.67,24.67 0 0 1 808.41,356.62L808.41,344.29A12.34,12.34 0 0 0 810.82,344.05Z" fill="#f1f0f4"/><path d="M815.63,368.25A37.01,37.01 0 0 1 808.41,368.96L808.41,356.62A24.67,24.67 0 0 0 813.22,356.15Z" fill="#e6e3e4"/><path d="M818.04,380.35A49.35,49.35 0 0 1 808.41,381.30L808.41,368.96A37.01,37.01 0 0 0 815.63,368.25Z" fill="#dfd7d2"/><path d="M820.44,392.45A61.68,61.68 0 0 1 808.41,393.63L808.41,381.30A49.35,49.35 0 0 0 818.04,380.35Z" fill="#dbcbbb"/><path d="M822.85,404.55A74.02,74.02 0 0 1 808.41,405.97L808.41,393.63A61.68,61.68 0 0 0 820.44,392.45Z" fill="#dfd7d2"/><path d="M825.26,416.65A86.36,86.36 0 0 1 808.41,418.31L808.41,405.97A74.02,74.02 0 0 0 822.85,404.55Z" fill="#dfd7d2"/><path d="M808.41,331.95L808.41,344.29A12.34,12.34 0 0 1 806.00,344.05Z" fill="#dfd7d2"/><path d="M808.41,356.62A24.67,24.67 0 0 1 803.60,356.15L806.00,344.05A12.34,12.34 0 0 0 808.41,344.29Z" fill="#dbcbbb"/><path d="M808.41,368.96A37.01,37.01 0 0 1 801.19,368.25L803.60,356.15A24.67,24.67 0 0 0 808.41,356.62Z" fill="#d5c1a4"/><path d="M808.41,381.30A49.35,49.35 0 0 1 798.78,380.35L801.19,368.25A37.01,37.01 0 0 0 808.41,368.96Z" fill="#dbcbbb"/><path d="M808.41,393.63A61.68,61.68 0 0 1 796.38,392.45L798.78,380.35A49.35,49.35 0 0 0 808.41,381.30Z" fill="#c7b991"/><path d="M808.41,405.97A74.02,74.02 0 0 1 793.97,404.55L796.38,392.45A61.68,61.68 0 0 0 808.41,393.63Z" fill="#b4b387"/><path d="M808.41,418.31A86.36,86.36 0 0 1 791.56,416.65L793.97,404.55A74.02,74.02 0 0 0 808.41,405.97Z" fill="#d5c1a4"/><path d="M808.41,430.64A98.69,98.69 0 0 1 789.16,428.75L791.56,416.65A86.36,86.36 0 0 0 808.41,418.31Z" fill="#dfd7d2"/><path d="M808.41,455.32A123.37,123.37 0 0 1 784.34,452.95L786.75,440.85A111.03,111.03 0 0 0 808.41,442.98Z" fill="#e6e3e4"/><path d="M808.41,331.95L806.00,344.05A12.34,12.34 0 0 1 803.69,343.35Z" fill="#b4b387"/><path d="M803.60,356.15A24.67,24.67 0 0 1 798.97,354.75L803.69,343.35A12.34,12.34 0 0 0 806.00,344.05Z" fill="#b4b387"/><path d="M801.19,368.25A37.01,37.01 0 0 1 794.25,366.14L798.97,354.75A24.67,24.67 0 0 0 803.60,356.15Z" fill="#b4b387"/><path d="M798.78,380.35A49.35,49.35 0 0 1 789.53,377.54L794.25,366.14A37.01,37.01 0 0 0 801.19,368.25Z" fill="#7da276"/><path d="M796.38,392.45A61.68,61.68 0 0 1 784.80,388.94L789.53,377.54A49.35,49.35 0 0 0 798.78,380.35Z" fill="#6a9b70"/><path d="M793.97,404.55A74.02,74.02 0 0 1 780.08,400.34L784.80,388.94A61.68,61.68 0 0 0 796.38,392.45Z" fill="#23856f"/><path d="M791.56,416.65A86.36,86.36 0 0 1 775.36,411.73L780.08,400.34A74.02,74.02 0 0 0 793.97,404.55Z" fill="#90a87c"/><path d="M789.16,428.75A98.69,98.69 0 0 1 770.64,423.13L775.36,411.73A86.36,86.36 0 0 0 791.56,416.65Z" fill="#6a9b70"/><path d="M786.75,440.85A111.03,111.03 0 0 1 765.92,434.53L770.64,423.13A98.69,98.69 0 0 0 789.16,428.75Z" fill="#90a87c"/><path d="M784.34,452.95A123.37,123.37 0 0 1 761.20,445.93L765.92,434.53A111.03,111.03 0 0 0 786.75,440.85Z" fill="#3b8c6e"/><path d="M781.94,465.05A135.71,135.71 0 0 1 756.48,457.33L761.20,445.93A123.37,123.37 0 0 0 784.34,452.95Z" fill="#53946e"/><path d="M779.53,477.15A148.04,148.04 0 0 1 751.76,468.72L756.48,457.33A135.71,135.71 0 0 0 781.94,465.05Z" fill="#b4b387"/><path d="M777.12,489.25A160.38,160.38 0 0 1 747.04,480.12L751.76,468.72A148.04,148.04 0 0 0 779.53,477.15Z" fill="#23856f"/><path d="M774.71,501.35A172.72,172.72 0 0 1 742.31,491.52L747.04,480.12A160.38,160.38 0 0 0 777.12,489.25Z" fill="#a2ad81"/><path d="M772.31,513.45A185.05,185.05 0 0 1 737.59,502.92L742.31,491.52A172.72,172.72 0 0 0 774.71,501.35Z" fill="#c7b991"/><path d="M808.41,331.95L803.69,343.35A12.34,12.34 0 0 1 801.56,342.21Z" fill="#f1f0f4"/><path d="M798.97,354.75A24.67,24.67 0 0 1 794.70,352.47L801.56,342.21A12.34,12.34 0 0 0 803.69,343.35Z" fill="#dfd7d2"/><path d="M794.25,366.14A37.01,37.01 0 0 1 787.85,362.72L794.70,352.47A24.67,24.67 0 0 0 798.97,354.75Z" fill="#e6e3e4"/><path d="M789.53,377.54A49.35,49.35 0 0 1 780.99,372.98L787.85,362.72A37.01,37.01 0 0 0 794.25,366.14Z" fill="#6a9b70"/><path d="M784.80,388.94A61.68,61.68 0 0 1 774.14,383.24L780.99,372.98A49.35,49.35 0 0 0 789.53,377.54Z" fill="#dbcbbb"/><path d="M780.08,400.34A74.02,74.02 0 0 1 767.29,393.50L774.14,383.24A61.68,61.68 0 0 0 784.80,388.94Z" fill="#127d70"/><path d="M775.36,411.73A86.36,86.36 0 0 1 760.43,403.75L767.29,393.50A74.02,74.02 0 0 0 780.08,400.34Z" fill="#3b8c6e"/><path d="M770.64,423.13A98.69,98.69 0 0 1 753.58,414.01L760.43,403.75A86.36,86.36 0 0 0 775.36,411.73Z" fill="#a2ad81"/><path d="M765.92,434.53A111.03,111.03 0 0 1 746.72,424.27L753.58,414.01A98.69,98.69 0 0 0 770.64,423.13Z" fill="#b4b387"/><path d="M761.20,445.93A123.37,123.37 0 0 1 739.87,434.53L746.72,424.27A111.03,111.03 0 0 0 765.92,434.53Z" fill="#1f4a5f"/><path d="M756.48,457.33A135.71,135.71 0 0 1 733.02,444.78L739.87,434.53A123.37,123.37 0 0 0 761.20,445.93Z" fill="#a2ad81"/><path d="M751.76,468.72A148.04,148.04 0 0 1 726.16,455.04L733.02,444.78A135.71,135.71 0 0 0 756.48,457.33Z" fill="#6a9b70"/><path d="M747.04,480.12A160.38,160.38 0 0 1 719.31,465.30L726.16,455.04A148.04,148.04 0 0 0 751.76,468.72Z" fill="#23856f"/><path d="M742.31,491.52A172.72,172.72 0 0 1 712.45,475.56L719.31,465.30A160.38,160.38 0 0 0 747.04,480.12Z" fill="#53946e"/><path d="M737.59,502.92A185.05,185.05 0 0 1 705.60,485.82L712.45,475.56A172.72,172.72 0 0 0 742.31,491.52Z" fill="#a2ad81"/><path d="M732.87,514.31A197.39,197.39 0 0 1 698.75,496.07L705.60,485.82A185.05,185.05 0 0 0 737.59,502.92Z" fill="#dfd7d2"/><path d="M808.41,331.95L801.56,342.21A12.34,12.34 0 0 1 799.69,340.67Z" fill="#f1f0f4"/><path d="M794.70,352.47A24.67,24.67 0 0 1 790.96,349.40L799.69,340.67A12.34,12.34 0 0 0 801.56,342.21Z" fill="#c7b991"/><path d="M787.85,362.72A37.01,37.01 0 0 1 782.24,358.12L790.96,349.40A24.67,24.67 0 0 0 794.70,352.47Z" fill="#b4b387"/><path d="M780.99,372.98A49.35,49.35 0 0 1 773.52,366.84L782.24,358.12A37.01,37.01 0 0 0 787.85,362.72Z" fill="#dbcbbb"/><path d="M774.14,383.24A61.68,61.68 0 0 1 764.79,375.57L773.52,366.84A49.35,49.35 0 0 0 780.99,372.98Z" fill="#dfd7d2"/><path d="M760.43,403.75A86.36,86.36 0 0 1 747.35,393.01L756.07,384.29A74.02,74.02 0 0 0 767.29,393.50Z" fill="#d5c1a4"/><path d="M753.58,414.01A98.69,98.69 0 0 1 738.62,401.74L747.35,393.01A86.36,86.36 0 0 0 760.43,403.75Z" fill="#e6e3e4"/><path d="M746.72,424.27A111.03,111.03 0 0 1 729.90,410.46L738.62,401.74A98.69,98.69 0 0 0 753.58,414.01Z" fill="#e6e3e4"/><path d="M739.87,434.53A123.37,123.37 0 0 1 721.18,419.18L729.90,410.46A111.03,111.03 0 0 0 746.72,424.27Z" fill="#e6e3e4"/><path d="M733.02,444.78A135.71,135.71 0 0 1 712.45,427.91L721.18,419.18A123.37,123.37 0 0 0 739.87,434.53Z" fill="#e6e3e4"/><path d="M808.41,331.95L799.69,340.67A12.34,12.34 0 0 1 798.15,338.80Z" fill="#dfd7d2"/><path d="M790.96,349.40A24.67,24.67 0 0 1 787.89,345.66L798.15,338.80A12.34,12.34 0 0 0 799.69,340.67Z" fill="#dfd7d2"/><path d="M782.24,358.12A37.01,37.01 0 0 1 777.64,352.51L787.89,345.66A24.67,24.67 0 0 0 790.96,349.40Z" fill="#dbcbbb"/><path d="M773.52,366.84A49.35,49.35 0 0 1 767.38,359.37L777.64,352.51A37.01,37.01 0 0 0 782.24,358.12Z" fill="#dfd7d2"/><path d="M764.79,375.57A61.68,61.68 0 0 1 757.12,366.22L767.38,359.37A49.35,49.35 0 0 0 773.52,366.84Z" fill="#dfd7d2"/><path d="M756.07,384.29A74.02,74.02 0 0 1 746.86,373.07L757.12,366.22A61.68,61.68 0 0 0 764.79,375.57Z" fill="#e6e3e4"/><path d="M808.41,331.95L798.15,338.80A12.34,12.34 0 0 1 797.01,336.67Z" fill="#f1f0f4"/><path d="M787.89,345.66A24.67,24.67 0 0 1 785.61,341.39L797.01,336.67A12.34,12.34 0 0 0 798.15,338.80Z" fill="#e6e3e4"/><path d="M777.64,352.51A37.01,37.01 0 0 1 774.22,346.11L785.61,341.39A24.67,24.67 0 0 0 787.89,345.66Z" fill="#dbcbbb"/><path d="M767.38,359.37A49.35,49.35 0 0 1 762.82,350.83L774.22,346.11A37.01,37.01 0 0 0 777.64,352.51Z" fill="#dfd7d2"/><path d="M757.12,366.22A61.68,61.68 0 0 1 751.42,355.56L762.82,350.83A49.35,49.35 0 0 0 767.38,359.37Z" fill="#e6e3e4"/><path d="M808.41,331.95L797.01,336.67A12.34,12.34 0 0 1 796.31,334.36Z" fill="#f1f0f4"/><path d="M785.61,341.39A24.67,24.67 0 0 1 784.21,336.76L796.31,334.36A12.34,12.34 0 0 0 797.01,336.67Z" fill="#e6e3e4"/><path d="M774.22,346.11A37.01,37.01 0 0 1 772.11,339.17L784.21,336.76A24.67,24.67 0 0 0 785.61,341.39Z" fill="#e6e3e4"/><path d="M762.82,350.83A49.35,49.35 0 0 1 760.01,341.58L772.11,339.17A37.01,37.01 0 0 0 774.22,346.11Z" fill="#e6e3e4"/><path d="M808.41,331.95L796.31,334.36A12.34,12.34 0 0 1 796.07,331.95Z" fill="#f1f0f4"/><path d="M784.21,336.76A24.67,24.67 0 0 1 783.74,331.95L796.07,331.95A12.34,12.34 0 0 0 796.31,334.36Z" fill="#e6e3e4"/><path d="M772.11,339.17A37.01,37.01 0 0 1 771.40,331.95L783.74,331.95A24.67,24.67 0 0 0 784.21,336.76Z" fill="#e6e3e4"/><path d="M808.41,331.95L796.07,331.95A12.34,12.34 0 0 1 796.31,329.54Z" fill="#e6e3e4"/><path d="M783.74,331.95A24.67,24.67 0 0 1 784.21,327.14L796.31,329.54A12.34,12.34 0 0 0 796.07,331.95Z" fill="#dbcbbb"/><path d="M808.41,331.95L796.31,329.54A12.34,12.34 0 0 1 797.01,327.23Z" fill="#f1f0f4"/><path d="M784.21,327.14A24.67,24.67 0 0 1 785.61,322.51L797.01,327.23A12.34,12.34 0 0 0 796.31,329.54Z" fill="#f1f0f4"/><path d="M808.41,331.95L797.01,327.23A12.34,12.34 0 0 1 798.15,325.10Z" fill="#f1f0f4"/><path d="M785.61,322.51A24.67,24.67 0 0 1 787.89,318.24L798.15,325.10A12.34,12.34 0 0 0 797.01,327.23Z" fill="#e6e3e4"/><path d="M808.41,331.95L798.15,325.10A12.34,12.34 0 0 1 799.69,323.23Z" fill="#dfd7d2"/><path d="M787.89,318.24A24.67,24.67 0 0 1 790.96,314.50L799.69,323.23A12.34,12.34 0 0 0 798.15,325.10Z" fill="#dbcbbb"/><path d="M777.64,311.39A37.01,37.01 0 0 1 782.24,305.78L790.96,314.50A24.67,24.67 0 0 0 787.89,318.24Z" fill="#e6e3e4"/><path d="M808.41,331.95L799.69,323.23A12.34,12.34 0 0 1 801.56,321.69Z" fill="#f1f0f4"/><path d="M790.96,314.50A24.67,24.67 0 0 1 794.70,311.43L801.56,321.69A12.34,12.34 0 0 0 799.69,323.23Z" fill="#e6e3e4"/><path d="M808.41,331.95L801.56,321.69A12.34,12.34 0 0 1 803.69,320.55Z" fill="#f1f0f4"/><path d="M794.70,311.43A24.67,24.67 0 0 1 798.97,309.15L803.69,320.55A12.34,12.34 0 0 0 801.56,321.69Z" fill="#e6e3e4"/><path d="M808.41,331.95L803.69,320.55A12.34,12.34 0 0 1 806.00,319.85Z" fill="#f1f0f4"/><path d="M798.97,309.15A24.67,24.67 0 0 1 803.60,307.75L806.00,319.85A12.34,12.34 0 0 0 803.69,320.55Z" fill="#e6e3e4"/><path d="M794.25,297.76A37.01,37.01 0 0 1 801.19,295.65L803.60,307.75A24.67,24.67 0 0 0 798.97,309.15Z" fill="#e6e3e4"/><path d="M808.41,331.95L806.00,319.85A12.34,12.34 0 0 1 808.41,319.61Z" fill="#f1f0f4"/><path d="M803.60,307.75A24.67,24.67 0 0 1 808.41,307.28L808.41,319.61A12.34,12.34 0 0 0 806.00,319.85Z" fill="#dbcbbb"/></g>
<g stroke="#b0b0b0" stroke-width="1.1"><circle cx="808.41" cy="331.95" r="54.17" fill="none"/><circle cx="808.41" cy="331.95" r="108.35" fill="none"/><circle cx="808.41" cy="331.95" r="162.52" fill="none"/><circle cx="808.41" cy="331.95" r="216.70" fill="none"/><line x1="808.41" y1="331.95" x2="808.41" y2="97.55"/><line x1="808.41" y1="331.95" x2="974.16" y2="166.20"/><line x1="808.41" y1="332.42" x2="1042.81" y2="332.42"/><line x1="808.41" y1="331.95" x2="974.16" y2="497.70"/><line x1="808.41" y1="331.95" x2="808.41" y2="566.35"/><line x1="808.41" y1="331.95" x2="642.66" y2="497.70"/><line x1="808.41" y1="332.42" x2="574.01" y2="332.42"/><line x1="808.41" y1="331.95" x2="642.66" y2="166.20"/></g>
<circle cx="808.41" cy="331.95" r="234.4" fill="none" stroke="#000" stroke-width="1.1"/><circle cx="1342.41" cy="331.95" r="234.4" fill="#eeedf3"/>
<g shape-rendering="crispEdges"><path d="M1342.41,331.95L1342.41,319.61A12.34,12.34 0 0 1 1344.82,319.85Z" fill="#f1f0f4"/><path d="M1342.41,307.28A24.67,24.67 0 0 1 1347.22,307.75L1344.82,319.85A12.34,12.34 0 0 0 1342.41,319.61Z" fill="#e6e3e4"/><path d="M1342.41,294.94A37.01,37.01 0 0 1 1349.63,295.65L1347.22,307.75A24.67,24.67 0 0 0 1342.41,307.28Z" fill="#b4b387"/><path d="M1342.41,282.60A49.35,49.35 0 0 1 1352.04,283.55L1349.63,295.65A37.01,37.01 0 0 0 1342.41,294.94Z" fill="#d5c1a4"/><path d="M1342.41,270.27A61.68,61.68 0 0 1 1354.44,271.45L1352.04,283.55A49.35,49.35 0 0 0 1342.41,282.60Z" fill="#dbcbbb"/><path d="M1342.41,257.93A74.02,74.02 0 0 1 1356.85,259.35L1354.44,271.45A61.68,61.68 0 0 0 1342.41,270.27Z" fill="#e6e3e4"/><path d="M1342.41,245.59A86.36,86.36 0 0 1 1359.26,247.25L1356.85,259.35A74.02,74.02 0 0 0 1342.41,257.93Z" fill="#dfd7d2"/><path d="M1342.41,233.26A98.69,98.69 0 0 1 1361.66,235.15L1359.26,247.25A86.36,86.36 0 0 0 1342.41,245.59Z" fill="#e6e3e4"/><path d="M1342.41,331.95L1344.82,319.85A12.34,12.34 0 0 1 1347.13,320.55Z" fill="#dfd7d2"/><path d="M1347.22,307.75A24.67,24.67 0 0 1 1351.85,309.15L1347.13,320.55A12.34,12.34 0 0 0 1344.82,319.85Z" fill="#b4b387"/><path d="M1349.63,295.65A37.01,37.01 0 0 1 1356.57,297.76L1351.85,309.15A24.67,24.67 0 0 0 1347.22,307.75Z" fill="#a2ad81"/><path d="M1352.04,283.55A49.35,49.35 0 0 1 1361.29,286.36L1356.57,297.76A37.01,37.01 0 0 0 1349.63,295.65Z" fill="#254058"/><path d="M1354.44,271.45A61.68,61.68 0 0 1 1366.02,274.96L1361.29,286.36A49.35,49.35 0 0 0 1352.04,283.55Z" fill="#a2ad81"/><path d="M1356.85,259.35A74.02,74.02 0 0 1 1370.74,263.56L1366.02,274.96A61.68,61.68 0 0 0 1354.44,271.45Z" fill="#d5c1a4"/><path d="M1359.26,247.25A86.36,86.36 0 0 1 1375.46,252.17L1370.74,263.56A74.02,74.02 0 0 0 1356.85,259.35Z" fill="#53946e"/><path d="M1361.66,235.15A98.69,98.69 0 0 1 1380.18,240.77L1375.46,252.17A86.36,86.36 0 0 0 1359.26,247.25Z" fill="#a2ad81"/><path d="M1364.07,223.05A111.03,111.03 0 0 1 1384.90,229.37L1380.18,240.77A98.69,98.69 0 0 0 1361.66,235.15Z" fill="#d5c1a4"/><path d="M1366.48,210.95A123.37,123.37 0 0 1 1389.62,217.97L1384.90,229.37A111.03,111.03 0 0 0 1364.07,223.05Z" fill="#dfd7d2"/><path d="M1368.88,198.85A135.71,135.71 0 0 1 1394.34,206.57L1389.62,217.97A123.37,123.37 0 0 0 1366.48,210.95Z" fill="#e6e3e4"/><path d="M1342.41,331.95L1347.13,320.55A12.34,12.34 0 0 1 1349.26,321.69Z" fill="#f1f0f4"/><path d="M1351.85,309.15A24.67,24.67 0 0 1 1356.12,311.43L1349.26,321.69A12.34,12.34 0 0 0 1347.13,320.55Z" fill="#dfd7d2"/><path d="M1356.57,297.76A37.01,37.01 0 0 1 1362.97,301.18L1356.12,311.43A24.67,24.67 0 0 0 1351.85,309.15Z" fill="#c7b991"/><path d="M1361.29,286.36A49.35,49.35 0 0 1 1369.83,290.92L1362.97,301.18A37.01,37.01 0 0 0 1356.57,297.76Z" fill="#127d70"/><path d="M1366.02,274.96A61.68,61.68 0 0 1 1376.68,280.66L1369.83,290.92A49.35,49.35 0 0 0 1361.29,286.36Z" fill="#90a87c"/><path d="M1370.74,263.56A74.02,74.02 0 0 1 1383.53,270.40L1376.68,280.66A61.68,61.68 0 0 0 1366.02,274.96Z" fill="#127d70"/><path d="M1375.46,252.17A86.36,86.36 0 0 1 1390.39,260.15L1383.53,270.40A74.02,74.02 0 0 0 1370.74,263.56Z" fill="#165564"/><path d="M1380.18,240.77A98.69,98.69 0 0 1 1397.24,249.89L1390.39,260.15A86.36,86.36 0 0 0 1375.46,252.17Z" fill="#066a6c"/><path d="M1384.90,229.37A111.03,111.03 0 0 1 1404.10,239.63L1397.24,249.89A98.69,98.69 0 0 0 1380.18,240.77Z" fill="#201a36"/><path d="M1389.62,217.97A123.37,123.37 0 0 1 1410.95,229.37L1404.10,239.63A111.03,111.03 0 0 0 1384.90,229.37Z" fill="#23856f"/><path d="M1394.34,206.57A135.71,135.71 0 0 1 1417.80,219.12L1410.95,229.37A123.37,123.37 0 0 0 1389.62,217.97Z" fill="#53946e"/><path d="M1399.06,195.18A148.04,148.04 0 0 1 1424.66,208.86L1417.80,219.12A135.71,135.71 0 0 0 1394.34,206.57Z" fill="#c7b991"/><path d="M1403.78,183.78A160.38,160.38 0 0 1 1431.51,198.60L1424.66,208.86A148.04,148.04 0 0 0 1399.06,195.18Z" fill="#dfd7d2"/><path d="M1342.41,331.95L1349.26,321.69A12.34,12.34 0 0 1 1351.13,323.23Z" fill="#f1f0f4"/><path d="M1356.12,311.43A24.67,24.67 0 0 1 1359.86,314.50L1351.13,323.23A12.34,12.34 0 0 0 1349.26,321.69Z" fill="#e6e3e4"/><path d="M1362.97,301.18A37.01,37.01 0 0 1 1368.58,305.78L1359.86,314.50A24.67,24.67 0 0 0 1356.12,311.43Z" fill="#6a9b70"/><path d="M1369.83,290.92A49.35,49.35 0 0 1 1377.30,297.06L1368.58,305.78A37.01,37.01 0 0 0 1362.97,301.18Z" fill="#90a87c"/><path d="M1376.68,280.66A61.68,61.68 0 0 1 1386.03,288.33L1377.30,297.06A49.35,49.35 0 0 0 1369.83,290.92Z" fill="#90a87c"/><path d="M1383.53,270.40A74.02,74.02 0 0 1 1394.75,279.61L1386.03,288.33A61.68,61.68 0 0 0 1376.68,280.66Z" fill="#90a87c"/><path d="M1390.39,260.15A86.36,86.36 0 0 1 1403.47,270.89L1394.75,279.61A74.02,74.02 0 0 0 1383.53,270.40Z" fill="#6a9b70"/><path d="M1397.24,249.89A98.69,98.69 0 0 1 1412.20,262.16L1403.47,270.89A86.36,86.36 0 0 0 1390.39,260.15Z" fill="#a2ad81"/><path d="M1404.10,239.63A111.03,111.03 0 0 1 1420.92,253.44L1412.20,262.16A98.69,98.69 0 0 0 1397.24,249.89Z" fill="#b4b387"/><path d="M1342.41,331.95L1351.13,323.23A12.34,12.34 0 0 1 1352.67,325.10Z" fill="#e6e3e4"/><path d="M1359.86,314.50A24.67,24.67 0 0 1 1362.93,318.24L1352.67,325.10A12.34,12.34 0 0 0 1351.13,323.23Z" fill="#dfd7d2"/><path d="M1368.58,305.78A37.01,37.01 0 0 1 1373.18,311.39L1362.93,318.24A24.67,24.67 0 0 0 1359.86,314.50Z" fill="#dbcbbb"/><path d="M1377.30,297.06A49.35,49.35 0 0 1 1383.44,304.53L1373.18,311.39A37.01,37.01 0 0 0 1368.58,305.78Z" fill="#d5c1a4"/><path d="M1386.03,288.33A61.68,61.68 0 0 1 1393.70,297.68L1383.44,304.53A49.35,49.35 0 0 0 1377.30,297.06Z" fill="#90a87c"/><path d="M1394.75,279.61A74.02,74.02 0 0 1 1403.96,290.83L1393.70,297.68A61.68,61.68 0 0 0 1386.03,288.33Z" fill="#dfd7d2"/><path d="M1342.41,331.95L1352.67,325.10A12.34,12.34 0 0 1 1353.81,327.23Z" fill="#f1f0f4"/><path d="M1362.93,318.24A24.67,24.67 0 0 1 1365.21,322.51L1353.81,327.23A12.34,12.34 0 0 0 1352.67,325.10Z" fill="#dbcbbb"/><path d="M1373.18,311.39A37.01,37.01 0 0 1 1376.60,317.79L1365.21,322.51A24.67,24.67 0 0 0 1362.93,318.24Z" fill="#dfd7d2"/><path d="M1383.44,304.53A49.35,49.35 0 0 1 1388.00,313.07L1376.60,317.79A37.01,37.01 0 0 0 1373.18,311.39Z" fill="#dfd7d2"/><path d="M1342.41,331.95L1353.81,327.23A12.34,12.34 0 0 1 1354.51,329.54Z" fill="#f1f0f4"/><path d="M1365.21,322.51A24.67,24.67 0 0 1 1366.61,327.14L1354.51,329.54A12.34,12.34 0 0 0 1353.81,327.23Z" fill="#dbcbbb"/><path d="M1376.60,317.79A37.01,37.01 0 0 1 1378.71,324.73L1366.61,327.14A24.67,24.67 0 0 0 1365.21,322.51Z" fill="#e6e3e4"/><path d="M1388.00,313.07A49.35,49.35 0 0 1 1390.81,322.32L1378.71,324.73A37.01,37.01 0 0 0 1376.60,317.79Z" fill="#e6e3e4"/><path d="M1342.41,331.95L1354.51,329.54A12.34,12.34 0 0 1 1354.75,331.95Z" fill="#dfd7d2"/><path d="M1366.61,327.14A24.67,24.67 0 0 1 1367.08,331.95L1354.75,331.95A12.34,12.34 0 0 0 1354.51,329.54Z" fill="#e6e3e4"/><path d="M1378.71,324.73A37.01,37.01 0 0 1 1379.42,331.95L1367.08,331.95A24.67,24.67 0 0 0 1366.61,327.14Z" fill="#dbcbbb"/><path d="M1342.41,331.95L1354.75,331.95A12.34,12.34 0 0 1 1354.51,334.36Z" fill="#f1f0f4"/><path d="M1367.08,331.95A24.67,24.67 0 0 1 1366.61,336.76L1354.51,334.36A12.34,12.34 0 0 0 1354.75,331.95Z" fill="#dbcbbb"/><path d="M1379.42,331.95A37.01,37.01 0 0 1 1378.71,339.17L1366.61,336.76A24.67,24.67 0 0 0 1367.08,331.95Z" fill="#e6e3e4"/><path d="M1342.41,331.95L1354.51,334.36A12.34,12.34 0 0 1 1353.81,336.67Z" fill="#f1f0f4"/><path d="M1366.61,336.76A24.67,24.67 0 0 1 1365.21,341.39L1353.81,336.67A12.34,12.34 0 0 0 1354.51,334.36Z" fill="#dfd7d2"/><path d="M1342.41,331.95L1353.81,336.67A12.34,12.34 0 0 1 1352.67,338.80Z" fill="#e6e3e4"/><path d="M1365.21,341.39A24.67,24.67 0 0 1 1362.93,345.66L1352.67,338.80A12.34,12.34 0 0 0 1353.81,336.67Z" fill="#dfd7d2"/><path d="M1342.41,331.95L1352.67,338.80A12.34,12.34 0 0 1 1351.13,340.67Z" fill="#f1f0f4"/><path d="M1362.93,345.66A24.67,24.67 0 0 1 1359.86,349.40L1351.13,340.67A12.34,12.34 0 0 0 1352.67,338.80Z" fill="#dbcbbb"/><path d="M1373.18,352.51A37.01,37.01 0 0 1 1368.58,358.12L1359.86,349.40A24.67,24.67 0 0 0 1362.93,345.66Z" fill="#e6e3e4"/><path d="M1342.41,331.95L1351.13,340.67A12.34,12.34 0 0 1 1349.26,342.21Z" fill="#f1f0f4"/><path d="M1359.86,349.40A24.67,24.67 0 0 1 1356.12,352.47L1349.26,342.21A12.34,12.34 0 0 0 1351.13,340.67Z" fill="#dfd7d2"/><path d="M1368.58,358.12A37.01,37.01 0 0 1 1362.97,362.72L1356.12,352.47A24.67,24.67 0 0 0 1359.86,349.40Z" fill="#e6e3e4"/><path d="M1342.41,331.95L1349.26,342.21A12.34,12.34 0 0 1 1347.13,343.35Z" fill="#f1f0f4"/><path d="M1356.12,352.47A24.67,24.67 0 0 1 1351.85,354.75L1347.13,343.35A12.34,12.34 0 0 0 1349.26,342.21Z" fill="#dbcbbb"/><path d="M1362.97,362.72A37.01,37.01 0 0 1 1356.57,366.14L1351.85,354.75A24.67,24.67 0 0 0 1356.12,352.47Z" fill="#dfd7d2"/><path d="M1342.41,331.95L1347.13,343.35A12.34,12.34 0 0 1 1344.82,344.05Z" fill="#f1f0f4"/><path d="M1351.85,354.75A24.67,24.67 0 0 1 1347.22,356.15L1344.82,344.05A12.34,12.34 0 0 0 1347.13,343.35Z" fill="#dbcbbb"/><path d="M1356.57,366.14A37.01,37.01 0 0 1 1349.63,368.25L1347.22,356.15A24.67,24.67 0 0 0 1351.85,354.75Z" fill="#e6e3e4"/><path d="M1342.41,331.95L1344.82,344.05A12.34,12.34 0 0 1 1342.41,344.29Z" fill="#f1f0f4"/><path d="M1347.22,356.15A24.67,24.67 0 0 1 1342.41,356.62L1342.41,344.29A12.34,12.34 0 0 0 1344.82,344.05Z" fill="#e6e3e4"/><path d="M1349.63,368.25A37.01,37.01 0 0 1 1342.41,368.96L1342.41,356.62A24.67,24.67 0 0 0 1347.22,356.15Z" fill="#a2ad81"/><path d="M1352.04,380.35A49.35,49.35 0 0 1 1342.41,381.30L1342.41,368.96A37.01,37.01 0 0 0 1349.63,368.25Z" fill="#d5c1a4"/><path d="M1354.44,392.45A61.68,61.68 0 0 1 1342.41,393.63L1342.41,381.30A49.35,49.35 0 0 0 1352.04,380.35Z" fill="#e6e3e4"/><path d="M1342.41,331.95L1342.41,344.29A12.34,12.34 0 0 1 1340.00,344.05Z" fill="#dfd7d2"/><path d="M1342.41,356.62A24.67,24.67 0 0 1 1337.60,356.15L1340.00,344.05A12.34,12.34 0 0 0 1342.41,344.29Z" fill="#dbcbbb"/><path d="M1342.41,368.96A37.01,37.01 0 0 1 1335.19,368.25L1337.60,356.15A24.67,24.67 0 0 0 1342.41,356.62Z" fill="#a2ad81"/><path d="M1342.41,381.30A49.35,49.35 0 0 1 1332.78,380.35L1335.19,368.25A37.01,37.01 0 0 0 1342.41,368.96Z" fill="#b4b387"/><path d="M1342.41,393.63A61.68,61.68 0 0 1 1330.38,392.45L1332.78,380.35A49.35,49.35 0 0 0 1342.41,381.30Z" fill="#d5c1a4"/><path d="M1342.41,405.97A74.02,74.02 0 0 1 1327.97,404.55L1330.38,392.45A61.68,61.68 0 0 0 1342.41,393.63Z" fill="#e6e3e4"/><path d="M1342.41,331.95L1340.00,344.05A12.34,12.34 0 0 1 1337.69,343.35Z" fill="#f1f0f4"/><path d="M1337.60,356.15A24.67,24.67 0 0 1 1332.97,354.75L1337.69,343.35A12.34,12.34 0 0 0 1340.00,344.05Z" fill="#d5c1a4"/><path d="M1335.19,368.25A37.01,37.01 0 0 1 1328.25,366.14L1332.97,354.75A24.67,24.67 0 0 0 1337.60,356.15Z" fill="#127d70"/><path d="M1332.78,380.35A49.35,49.35 0 0 1 1323.53,377.54L1328.25,366.14A37.01,37.01 0 0 0 1335.19,368.25Z" fill="#53946e"/><path d="M1330.38,392.45A61.68,61.68 0 0 1 1318.80,388.94L1323.53,377.54A49.35,49.35 0 0 0 1332.78,380.35Z" fill="#23856f"/><path d="M1327.97,404.55A74.02,74.02 0 0 1 1314.08,400.34L1318.80,388.94A61.68,61.68 0 0 0 1330.38,392.45Z" fill="#6a9b70"/><path d="M1325.56,416.65A86.36,86.36 0 0 1 1309.36,411.73L1314.08,400.34A74.02,74.02 0 0 0 1327.97,404.55Z" fill="#b4b387"/><path d="M1342.41,331.95L1337.69,343.35A12.34,12.34 0 0 1 1335.56,342.21Z" fill="#f1f0f4"/><path d="M1332.97,354.75A24.67,24.67 0 0 1 1328.70,352.47L1335.56,342.21A12.34,12.34 0 0 0 1337.69,343.35Z" fill="#dbcbbb"/><path d="M1328.25,366.14A37.01,37.01 0 0 1 1321.85,362.72L1328.70,352.47A24.67,24.67 0 0 0 1332.97,354.75Z" fill="#a2ad81"/><path d="M1323.53,377.54A49.35,49.35 0 0 1 1314.99,372.98L1321.85,362.72A37.01,37.01 0 0 0 1328.25,366.14Z" fill="#6a9b70"/><path d="M1318.80,388.94A61.68,61.68 0 0 1 1308.14,383.24L1314.99,372.98A49.35,49.35 0 0 0 1323.53,377.54Z" fill="#b4b387"/><path d="M1314.08,400.34A74.02,74.02 0 0 1 1301.29,393.50L1308.14,383.24A61.68,61.68 0 0 0 1318.80,388.94Z" fill="#06746e"/><path d="M1309.36,411.73A86.36,86.36 0 0 1 1294.43,403.75L1301.29,393.50A74.02,74.02 0 0 0 1314.08,400.34Z" fill="#127d70"/><path d="M1304.64,423.13A98.69,98.69 0 0 1 1287.58,414.01L1294.43,403.75A86.36,86.36 0 0 0 1309.36,411.73Z" fill="#06746e"/><path d="M1299.92,434.53A111.03,111.03 0 0 1 1280.72,424.27L1287.58,414.01A98.69,98.69 0 0 0 1304.64,423.13Z" fill="#23856f"/><path d="M1295.20,445.93A123.37,123.37 0 0 1 1273.87,434.53L1280.72,424.27A111.03,111.03 0 0 0 1299.92,434.53Z" fill="#dbcbbb"/><path d="M1290.48,457.33A135.71,135.71 0 0 1 1267.02,444.78L1273.87,434.53A123.37,123.37 0 0 0 1295.20,445.93Z" fill="#e6e3e4"/><path d="M1342.41,331.95L1335.56,342.21A12.34,12.34 0 0 1 1333.69,340.67Z" fill="#dfd7d2"/><path d="M1328.70,352.47A24.67,24.67 0 0 1 1324.96,349.40L1333.69,340.67A12.34,12.34 0 0 0 1335.56,342.21Z" fill="#b4b387"/><path d="M1321.85,362.72A37.01,37.01 0 0 1 1316.24,358.12L1324.96,349.40A24.67,24.67 0 0 0 1328.70,352.47Z" fill="#b4b387"/><path d="M1314.99,372.98A49.35,49.35 0 0 1 1307.52,366.84L1316.24,358.12A37.01,37.01 0 0 0 1321.85,362.72Z" fill="#a2ad81"/><path d="M1308.14,383.24A61.68,61.68 0 0 1 1298.79,375.57L1307.52,366.84A49.35,49.35 0 0 0 1314.99,372.98Z" fill="#b4b387"/><path d="M1301.29,393.50A74.02,74.02 0 0 1 1290.07,384.29L1298.79,375.57A61.68,61.68 0 0 0 1308.14,383.24Z" fill="#dbcbbb"/><path d="M1294.43,403.75A86.36,86.36 0 0 1 1281.35,393.01L1290.07,384.29A74.02,74.02 0 0 0 1301.29,393.50Z" fill="#3b8c6e"/><path d="M1287.58,414.01A98.69,98.69 0 0 1 1272.62,401.74L1281.35,393.01A86.36,86.36 0 0 0 1294.43,403.75Z" fill="#d5c1a4"/><path d="M1280.72,424.27A111.03,111.03 0 0 1 1263.90,410.46L1272.62,401.74A98.69,98.69 0 0 0 1287.58,414.01Z" fill="#6a9b70"/><path d="M1273.87,434.53A123.37,123.37 0 0 1 1255.18,419.18L1263.90,410.46A111.03,111.03 0 0 0 1280.72,424.27Z" fill="#dbcbbb"/><path d="M1267.02,444.78A135.71,135.71 0 0 1 1246.45,427.91L1255.18,419.18A123.37,123.37 0 0 0 1273.87,434.53Z" fill="#d5c1a4"/><path d="M1260.16,455.04A148.04,148.04 0 0 1 1237.73,436.63L1246.45,427.91A135.71,135.71 0 0 0 1267.02,444.78Z" fill="#e6e3e4"/><path d="M1342.41,331.95L1333.69,340.67A12.34,12.34 0 0 1 1332.15,338.80Z" fill="#f1f0f4"/><path d="M1324.96,349.40A24.67,24.67 0 0 1 1321.89,345.66L1332.15,338.80A12.34,12.34 0 0 0 1333.69,340.67Z" fill="#dfd7d2"/><path d="M1316.24,358.12A37.01,37.01 0 0 1 1311.64,352.51L1321.89,345.66A24.67,24.67 0 0 0 1324.96,349.40Z" fill="#dbcbbb"/><path d="M1307.52,366.84A49.35,49.35 0 0 1 1301.38,359.37L1311.64,352.51A37.01,37.01 0 0 0 1316.24,358.12Z" fill="#dfd7d2"/><path d="M1298.79,375.57A61.68,61.68 0 0 1 1291.12,366.22L1301.38,359.37A49.35,49.35 0 0 0 1307.52,366.84Z" fill="#dfd7d2"/><path d="M1290.07,384.29A74.02,74.02 0 0 1 1280.86,373.07L1291.12,366.22A61.68,61.68 0 0 0 1298.79,375.57Z" fill="#dfd7d2"/><path d="M1281.35,393.01A86.36,86.36 0 0 1 1270.61,379.93L1280.86,373.07A74.02,74.02 0 0 0 1290.07,384.29Z" fill="#d5c1a4"/><path d="M1272.62,401.74A98.69,98.69 0 0 1 1260.35,386.78L1270.61,379.93A86.36,86.36 0 0 0 1281.35,393.01Z" fill="#dbcbbb"/><path d="M1263.90,410.46A111.03,111.03 0 0 1 1250.09,393.64L1260.35,386.78A98.69,98.69 0 0 0 1272.62,401.74Z" fill="#dfd7d2"/><path d="M1255.18,419.18A123.37,123.37 0 0 1 1239.83,400.49L1250.09,393.64A111.03,111.03 0 0 0 1263.90,410.46Z" fill="#dfd7d2"/><path d="M1246.45,427.91A135.71,135.71 0 0 1 1229.58,407.34L1239.83,400.49A123.37,123.37 0 0 0 1255.18,419.18Z" fill="#dbcbbb"/><path d="M1237.73,436.63A148.04,148.04 0 0 1 1219.32,414.20L1229.58,407.34A135.71,135.71 0 0 0 1246.45,427.91Z" fill="#dbcbbb"/><path d="M1220.28,454.08A172.72,172.72 0 0 1 1198.80,427.91L1209.06,421.05A160.38,160.38 0 0 0 1229.00,445.36Z" fill="#e6e3e4"/><path d="M1342.41,331.95L1332.15,338.80A12.34,12.34 0 0 1 1331.01,336.67Z" fill="#f1f0f4"/><path d="M1321.89,345.66A24.67,24.67 0 0 1 1319.61,341.39L1331.01,336.67A12.34,12.34 0 0 0 1332.15,338.80Z" fill="#e6e3e4"/><path d="M1311.64,352.51A37.01,37.01 0 0 1 1308.22,346.11L1319.61,341.39A24.67,24.67 0 0 0 1321.89,345.66Z" fill="#e6e3e4"/><path d="M1301.38,359.37A49.35,49.35 0 0 1 1296.82,350.83L1308.22,346.11A37.01,37.01 0 0 0 1311.64,352.51Z" fill="#e6e3e4"/><path d="M1291.12,366.22A61.68,61.68 0 0 1 1285.42,355.56L1296.82,350.83A49.35,49.35 0 0 0 1301.38,359.37Z" fill="#e6e3e4"/><path d="M1280.86,373.07A74.02,74.02 0 0 1 1274.02,360.28L1285.42,355.56A61.68,61.68 0 0 0 1291.12,366.22Z" fill="#e6e3e4"/><path d="M1270.61,379.93A86.36,86.36 0 0 1 1262.63,365.00L1274.02,360.28A74.02,74.02 0 0 0 1280.86,373.07Z" fill="#dbcbbb"/><path d="M1260.35,386.78A98.69,98.69 0 0 1 1251.23,369.72L1262.63,365.00A86.36,86.36 0 0 0 1270.61,379.93Z" fill="#dfd7d2"/><path d="M1250.09,393.64A111.03,111.03 0 0 1 1239.83,374.44L1251.23,369.72A98.69,98.69 0 0 0 1260.35,386.78Z" fill="#e6e3e4"/><path d="M1342.41,331.95L1331.01,336.67A12.34,12.34 0 0 1 1330.31,334.36Z" fill="#e6e3e4"/><path d="M1319.61,341.39A24.67,24.67 0 0 1 1318.21,336.76L1330.31,334.36A12.34,12.34 0 0 0 1331.01,336.67Z" fill="#dfd7d2"/><path d="M1308.22,346.11A37.01,37.01 0 0 1 1306.11,339.17L1318.21,336.76A24.67,24.67 0 0 0 1319.61,341.39Z" fill="#e6e3e4"/><path d="M1342.41,331.95L1330.31,334.36A12.34,12.34 0 0 1 1330.07,331.95Z" fill="#f1f0f4"/><path d="M1318.21,336.76A24.67,24.67 0 0 1 1317.74,331.95L1330.07,331.95A12.34,12.34 0 0 0 1330.31,334.36Z" fill="#e6e3e4"/><path d="M1342.41,331.95L1330.07,331.95A12.34,12.34 0 0 1 1330.31,329.54Z" fill="#f1f0f4"/><path d="M1317.74,331.95A24.67,24.67 0 0 1 1318.21,327.14L1330.31,329.54A12.34,12.34 0 0 0 1330.07,331.95Z" fill="#e6e3e4"/><path d="M1342.41,331.95L1330.31,329.54A12.34,12.34 0 0 1 1331.01,327.23Z" fill="#e6e3e4"/><path d="M1318.21,327.14A24.67,24.67 0 0 1 1319.61,322.51L1331.01,327.23A12.34,12.34 0 0 0 1330.31,329.54Z" fill="#e6e3e4"/><path d="M1306.11,324.73A37.01,37.01 0 0 1 1308.22,317.79L1319.61,322.51A24.67,24.67 0 0 0 1318.21,327.14Z" fill="#dfd7d2"/><path d="M1342.41,331.95L1331.01,327.23A12.34,12.34 0 0 1 1332.15,325.10Z" fill="#f1f0f4"/><path d="M1319.61,322.51A24.67,24.67 0 0 1 1321.89,318.24L1332.15,325.10A12.34,12.34 0 0 0 1331.01,327.23Z" fill="#e6e3e4"/><path d="M1308.22,317.79A37.01,37.01 0 0 1 1311.64,311.39L1321.89,318.24A24.67,24.67 0 0 0 1319.61,322.51Z" fill="#e6e3e4"/><path d="M1296.82,313.07A49.35,49.35 0 0 1 1301.38,304.53L1311.64,311.39A37.01,37.01 0 0 0 1308.22,317.79Z" fill="#e6e3e4"/><path d="M1342.41,331.95L1332.15,325.10A12.34,12.34 0 0 1 1333.69,323.23Z" fill="#f1f0f4"/><path d="M1321.89,318.24A24.67,24.67 0 0 1 1324.96,314.50L1333.69,323.23A12.34,12.34 0 0 0 1332.15,325.10Z" fill="#e6e3e4"/><path d="M1311.64,311.39A37.01,37.01 0 0 1 1316.24,305.78L1324.96,314.50A24.67,24.67 0 0 0 1321.89,318.24Z" fill="#dfd7d2"/><path d="M1342.41,331.95L1333.69,323.23A12.34,12.34 0 0 1 1335.56,321.69Z" fill="#f1f0f4"/><path d="M1324.96,314.50A24.67,24.67 0 0 1 1328.70,311.43L1335.56,321.69A12.34,12.34 0 0 0 1333.69,323.23Z" fill="#e6e3e4"/><path d="M1316.24,305.78A37.01,37.01 0 0 1 1321.85,301.18L1328.70,311.43A24.67,24.67 0 0 0 1324.96,314.50Z" fill="#e6e3e4"/><path d="M1342.41,331.95L1335.56,321.69A12.34,12.34 0 0 1 1337.69,320.55Z" fill="#f1f0f4"/><path d="M1328.70,311.43A24.67,24.67 0 0 1 1332.97,309.15L1337.69,320.55A12.34,12.34 0 0 0 1335.56,321.69Z" fill="#e6e3e4"/><path d="M1321.85,301.18A37.01,37.01 0 0 1 1328.25,297.76L1332.97,309.15A24.67,24.67 0 0 0 1328.70,311.43Z" fill="#e6e3e4"/><path d="M1314.99,290.92A49.35,49.35 0 0 1 1323.53,286.36L1328.25,297.76A37.01,37.01 0 0 0 1321.85,301.18Z" fill="#e6e3e4"/><path d="M1342.41,331.95L1337.69,320.55A12.34,12.34 0 0 1 1340.00,319.85Z" fill="#e6e3e4"/><path d="M1332.97,309.15A24.67,24.67 0 0 1 1337.60,307.75L1340.00,319.85A12.34,12.34 0 0 0 1337.69,320.55Z" fill="#e6e3e4"/><path d="M1328.25,297.76A37.01,37.01 0 0 1 1335.19,295.65L1337.60,307.75A24.67,24.67 0 0 0 1332.97,309.15Z" fill="#dbcbbb"/><path d="M1323.53,286.36A49.35,49.35 0 0 1 1332.78,283.55L1335.19,295.65A37.01,37.01 0 0 0 1328.25,297.76Z" fill="#e6e3e4"/><path d="M1342.41,331.95L1340.00,319.85A12.34,12.34 0 0 1 1342.41,319.61Z" fill="#f1f0f4"/><path d="M1337.60,307.75A24.67,24.67 0 0 1 1342.41,307.28L1342.41,319.61A12.34,12.34 0 0 0 1340.00,319.85Z" fill="#a2ad81"/><path d="M1335.19,295.65A37.01,37.01 0 0 1 1342.41,294.94L1342.41,307.28A24.67,24.67 0 0 0 1337.60,307.75Z" fill="#dbcbbb"/><path d="M1332.78,283.55A49.35,49.35 0 0 1 1342.41,282.60L1342.41,294.94A37.01,37.01 0 0 0 1335.19,295.65Z" fill="#e6e3e4"/><path d="M1330.38,271.45A61.68,61.68 0 0 1 1342.41,270.27L1342.41,282.60A49.35,49.35 0 0 0 1332.78,283.55Z" fill="#e6e3e4"/><path d="M1327.97,259.35A74.02,74.02 0 0 1 1342.41,257.93L1342.41,270.27A61.68,61.68 0 0 0 1330.38,271.45Z" fill="#e6e3e4"/></g>
<g stroke="#b0b0b0" stroke-width="1.1"><circle cx="1342.41" cy="331.95" r="54.17" fill="none"/><circle cx="1342.41" cy="331.95" r="108.35" fill="none"/><circle cx="1342.41" cy="331.95" r="162.52" fill="none"/><circle cx="1342.41" cy="331.95" r="216.70" fill="none"/><line x1="1342.41" y1="331.95" x2="1342.41" y2="97.55"/><line x1="1342.41" y1="331.95" x2="1508.16" y2="166.20"/><line x1="1342.41" y1="332.42" x2="1576.81" y2="332.42"/><line x1="1342.41" y1="331.95" x2="1508.16" y2="497.70"/><line x1="1342.41" y1="331.95" x2="1342.41" y2="566.35"/><line x1="1342.41" y1="331.95" x2="1176.66" y2="497.70"/><line x1="1342.41" y1="332.42" x2="1108.01" y2="332.42"/><line x1="1342.41" y1="331.95" x2="1176.66" y2="166.20"/></g>
<circle cx="1342.41" cy="331.95" r="234.4" fill="none" stroke="#000" stroke-width="1.1"/>
<defs><linearGradient id="cb" x1="0" x2="1" y1="0" y2="0"><stop offset="0.0000" stop-color="#f1f0f4"/><stop offset="0.0417" stop-color="#e6e3e4"/><stop offset="0.0833" stop-color="#dfd7d2"/><stop offset="0.1250" stop-color="#dbcbbb"/><stop offset="0.1667" stop-color="#d5c1a4"/><stop offset="0.2083" stop-color="#c7b991"/><stop offset="0.2500" stop-color="#b4b387"/><stop offset="0.2917" stop-color="#a2ad81"/><stop offset="0.3333" stop-color="#90a87c"/><stop offset="0.3750" stop-color="#7da276"/><stop offset="0.4167" stop-color="#6a9b70"/><stop offset="0.4583" stop-color="#53946e"/><stop offset="0.5000" stop-color="#3b8c6e"/><stop offset="0.5417" stop-color="#23856f"/><stop offset="0.5833" stop-color="#127d70"/><stop offset="0.6250" stop-color="#06746e"/><stop offset="0.6667" stop-color="#066a6c"/><stop offset="0.7083" stop-color="#0c5f68"/><stop offset="0.7500" stop-color="#165564"/><stop offset="0.7917" stop-color="#1f4a5f"/><stop offset="0.8333" stop-color="#254058"/><stop offset="0.8750" stop-color="#273650"/><stop offset="0.9167" stop-color="#262b47"/><stop offset="0.9583" stop-color="#23213e"/><stop offset="1.0000" stop-color="#201a36"/></linearGradient></defs><rect x="406.2" y="605.5" width="800.70" height="29.90" fill="url(#cb)" stroke="#000" stroke-width="1.1"/><line x1="406.50" y1="635.4" x2="406.50" y2="657.40" stroke="#000" stroke-width="1.2"/><line x1="572.50" y1="635.4" x2="572.50" y2="657.40" stroke="#000" stroke-width="1.2"/><line x1="739.50" y1="635.4" x2="739.50" y2="657.40" stroke="#000" stroke-width="1.2"/><line x1="906.50" y1="635.4" x2="906.50" y2="657.40" stroke="#000" stroke-width="1.2"/><line x1="1072.50" y1="635.4" x2="1072.50" y2="657.40" stroke="#000" stroke-width="1.2"/>
<g style="will-change:transform"><text x="741.30" y="32.00" font-size="29.5" text-anchor="start" textLength="128.5" lengthAdjust="spacingAndGlyphs">Feb 2008</text><text x="236.60" y="60.90" font-size="25.5" text-anchor="start" textLength="73.0" lengthAdjust="spacingAndGlyphs">CIOFS</text><text x="759.00" y="60.90" font-size="25.5" text-anchor="start" textLength="98.0" lengthAdjust="spacingAndGlyphs">NWGOA</text><text x="1250.60" y="60.90" font-size="25.5" text-anchor="start" textLength="182.0" lengthAdjust="spacingAndGlyphs">CIOFS-NWGOA</text><text x="274.35" y="83.80" font-size="19.4" text-anchor="middle">N</text><text x="528.35" y="338.10" font-size="19.4" text-anchor="middle">E</text><text x="274.05" y="591.80" font-size="19.4" text-anchor="middle">S</text><text x="20.60" y="338.00" font-size="19.4" text-anchor="middle">W</text><text x="338.55" y="307.70" font-size="19.4" text-anchor="middle" textLength="28.0" lengthAdjust="spacingAndGlyphs">0.5</text><text x="389.20" y="287.00" font-size="19.4" text-anchor="middle" textLength="28.0" lengthAdjust="spacingAndGlyphs">1.0</text><text x="438.85" y="265.90" font-size="19.4" text-anchor="middle" textLength="28.0" lengthAdjust="spacingAndGlyphs">1.5</text><text x="488.75" y="245.10" font-size="19.4" text-anchor="middle" textLength="28.0" lengthAdjust="spacingAndGlyphs">2.0</text><text x="809.32" y="83.80" font-size="19.4" text-anchor="middle">N</text><text x="1063.32" y="338.10" font-size="19.4" text-anchor="middle">E</text><text x="809.02" y="591.80" font-size="19.4" text-anchor="middle">S</text><text x="555.57" y="338.00" font-size="19.4" text-anchor="middle">W</text><text x="873.52" y="307.70" font-size="19.4" text-anchor="middle" textLength="28.0" lengthAdjust="spacingAndGlyphs">0.5</text><text x="924.17" y="287.00" font-size="19.4" text-anchor="middle" textLength="28.0" lengthAdjust="spacingAndGlyphs">1.0</text><text x="973.82" y="265.90" font-size="19.4" text-anchor="middle" textLength="28.0" lengthAdjust="spacingAndGlyphs">1.5</text><text x="1023.72" y="245.10" font-size="19.4" text-anchor="middle" textLength="28.0" lengthAdjust="spacingAndGlyphs">2.0</text><text x="1343.32" y="83.80" font-size="19.4" text-anchor="middle">N</text><text x="1597.32" y="338.10" font-size="19.4" text-anchor="middle">E</text><text x="1343.02" y="591.80" font-size="19.4" text-anchor="middle">S</text><text x="1089.57" y="338.00" font-size="19.4" text-anchor="middle">W</text><text x="1407.52" y="307.70" font-size="19.4" text-anchor="middle" textLength="28.0" lengthAdjust="spacingAndGlyphs">0.5</text><text x="1458.17" y="287.00" font-size="19.4" text-anchor="middle" textLength="28.0" lengthAdjust="spacingAndGlyphs">1.0</text><text x="1507.82" y="265.90" font-size="19.4" text-anchor="middle" textLength="28.0" lengthAdjust="spacingAndGlyphs">1.5</text><text x="1557.72" y="245.10" font-size="19.4" text-anchor="middle" textLength="28.0" lengthAdjust="spacingAndGlyphs">2.0</text><text x="406.20" y="681.00" font-size="23.3" text-anchor="middle" textLength="14.0" lengthAdjust="spacingAndGlyphs">0</text><text x="572.20" y="681.00" font-size="23.3" text-anchor="middle" textLength="14.0" lengthAdjust="spacingAndGlyphs">5</text><text x="739.20" y="681.00" font-size="23.3" text-anchor="middle" textLength="28.5" lengthAdjust="spacingAndGlyphs">10</text><text x="906.20" y="681.00" font-size="23.3" text-anchor="middle" textLength="28.5" lengthAdjust="spacingAndGlyphs">15</text><text x="1072.20" y="681.00" font-size="23.3" text-anchor="middle" textLength="28.5" lengthAdjust="spacingAndGlyphs">20</text><text x="523.00" y="708.30" font-size="22" text-anchor="start" textLength="564" lengthAdjust="spacingAndGlyphs">Currents [m/s] at COI1201; number of occurrences</text></g>
</svg></body></html>
